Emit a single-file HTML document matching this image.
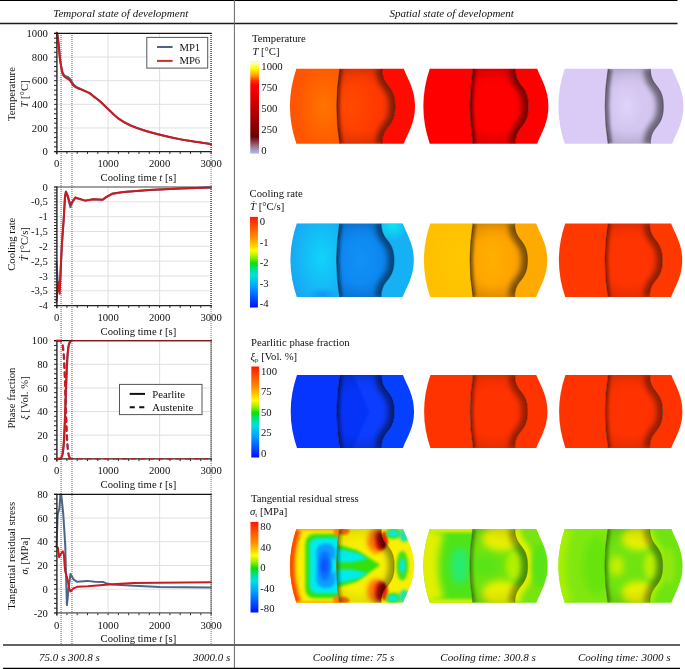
<!DOCTYPE html><html><head><meta charset="utf-8"><style>html,body{margin:0;padding:0;background:#fff;}svg{display:block;will-change:transform;}</style></head><body>
<svg width="685" height="669" viewBox="0 0 685 669" font-family='"Liberation Serif", serif' font-size="10.7" fill="#111">
<rect width="685" height="669" fill="#fff"/>
<line x1="0" x2="677.5" y1="0.5" y2="0.5" stroke="#000" stroke-width="1.2"/>
<line x1="0" x2="677.5" y1="23.5" y2="23.5" stroke="#1a1a1a" stroke-width="1.3"/>
<line x1="234.4" x2="234.4" y1="0" y2="669" stroke="#666" stroke-width="1"/>
<line x1="3" x2="680" y1="645" y2="645" stroke="#636363" stroke-width="2"/>
<line x1="3" x2="680" y1="668.5" y2="668.5" stroke="#000" stroke-width="1.5"/>
<text x="120.8" y="16.6" text-anchor="middle" font-style="italic" font-size="11">Temporal state of development</text>
<text x="451.6" y="16.6" text-anchor="middle" font-style="italic" font-size="11">Spatial state of development</text>
<text x="52.2" y="660.5" text-anchor="middle" font-style="italic" font-size="11">75.0 s</text>
<text x="83.9" y="660.5" text-anchor="middle" font-style="italic" font-size="11">300.8 s</text>
<text x="211.6" y="660.5" text-anchor="middle" font-style="italic" font-size="11">3000.0 s</text>
<text x="353.6" y="660.5" text-anchor="middle" font-style="italic" font-size="11">Cooling time: 75 s</text>
<text x="488" y="660.5" text-anchor="middle" font-style="italic" font-size="11">Cooling time: 300.8 s</text>
<text x="624.2" y="660.5" text-anchor="middle" font-style="italic" font-size="11">Cooling time: 3000 s</text>
<line x1="56.6" x2="211.1" y1="127.96" y2="127.96" stroke="#dcdcdc" stroke-width="0.9"/>
<line x1="56.6" x2="211.1" y1="104.32" y2="104.32" stroke="#dcdcdc" stroke-width="0.9"/>
<line x1="56.6" x2="211.1" y1="80.68" y2="80.68" stroke="#dcdcdc" stroke-width="0.9"/>
<line x1="56.6" x2="211.1" y1="57.04" y2="57.04" stroke="#dcdcdc" stroke-width="0.9"/>
<line x1="108.10" x2="108.10" y1="33.4" y2="151.6" stroke="#dcdcdc" stroke-width="0.9"/>
<line x1="159.60" x2="159.60" y1="33.4" y2="151.6" stroke="#dcdcdc" stroke-width="0.9"/>
<line x1="56.6" x2="211.1" y1="290.78" y2="290.78" stroke="#dcdcdc" stroke-width="0.9"/>
<line x1="56.6" x2="211.1" y1="275.95" y2="275.95" stroke="#dcdcdc" stroke-width="0.9"/>
<line x1="56.6" x2="211.1" y1="261.12" y2="261.12" stroke="#dcdcdc" stroke-width="0.9"/>
<line x1="56.6" x2="211.1" y1="246.30" y2="246.30" stroke="#dcdcdc" stroke-width="0.9"/>
<line x1="56.6" x2="211.1" y1="231.48" y2="231.48" stroke="#dcdcdc" stroke-width="0.9"/>
<line x1="56.6" x2="211.1" y1="216.65" y2="216.65" stroke="#dcdcdc" stroke-width="0.9"/>
<line x1="56.6" x2="211.1" y1="201.82" y2="201.82" stroke="#dcdcdc" stroke-width="0.9"/>
<line x1="108.10" x2="108.10" y1="187.0" y2="305.6" stroke="#dcdcdc" stroke-width="0.9"/>
<line x1="159.60" x2="159.60" y1="187.0" y2="305.6" stroke="#dcdcdc" stroke-width="0.9"/>
<line x1="56.6" x2="211.1" y1="435.18" y2="435.18" stroke="#dcdcdc" stroke-width="0.9"/>
<line x1="56.6" x2="211.1" y1="411.56" y2="411.56" stroke="#dcdcdc" stroke-width="0.9"/>
<line x1="56.6" x2="211.1" y1="387.94" y2="387.94" stroke="#dcdcdc" stroke-width="0.9"/>
<line x1="56.6" x2="211.1" y1="364.32" y2="364.32" stroke="#dcdcdc" stroke-width="0.9"/>
<line x1="108.10" x2="108.10" y1="340.7" y2="458.8" stroke="#dcdcdc" stroke-width="0.9"/>
<line x1="159.60" x2="159.60" y1="340.7" y2="458.8" stroke="#dcdcdc" stroke-width="0.9"/>
<line x1="56.6" x2="211.1" y1="589.18" y2="589.18" stroke="#dcdcdc" stroke-width="0.9"/>
<line x1="56.6" x2="211.1" y1="565.46" y2="565.46" stroke="#dcdcdc" stroke-width="0.9"/>
<line x1="56.6" x2="211.1" y1="541.74" y2="541.74" stroke="#dcdcdc" stroke-width="0.9"/>
<line x1="56.6" x2="211.1" y1="518.02" y2="518.02" stroke="#dcdcdc" stroke-width="0.9"/>
<line x1="108.10" x2="108.10" y1="494.3" y2="612.9" stroke="#dcdcdc" stroke-width="0.9"/>
<line x1="159.60" x2="159.60" y1="494.3" y2="612.9" stroke="#dcdcdc" stroke-width="0.9"/>
<line x1="61.1" x2="61.1" y1="33" y2="644" stroke="#7a7a7a" stroke-width="1.2" stroke-dasharray="1 1"/>
<line x1="71.95" x2="71.95" y1="33" y2="644" stroke="#7a7a7a" stroke-width="1.2" stroke-dasharray="1 1"/>
<path d="M56.60,33.40 C56.70,33.44 56.88,31.86 57.22,33.64 C57.55,35.41 58.18,40.24 58.61,44.04 C59.04,47.84 59.40,53.00 59.79,56.45 C60.19,59.90 60.48,62.00 60.98,64.72 C61.48,67.44 62.08,70.89 62.78,72.76 C63.48,74.63 64.30,75.18 65.20,75.95 C66.10,76.72 67.29,76.78 68.19,77.37 C69.09,77.96 69.82,78.45 70.61,79.50 C71.40,80.54 72.04,82.45 72.93,83.64 C73.81,84.82 74.72,85.74 75.91,86.59 C77.11,87.44 78.58,88.01 80.08,88.72 C81.59,89.43 83.32,90.10 84.92,90.85 C86.53,91.59 88.12,92.18 89.71,93.21 C91.31,94.23 92.71,95.57 94.50,96.99 C96.30,98.41 98.16,99.67 100.48,101.72 C102.80,103.77 105.40,106.49 108.41,109.28 C111.41,112.08 114.87,115.84 118.50,118.50 C122.13,121.16 126.01,123.29 130.19,125.24 C134.37,127.19 138.81,128.67 143.58,130.21 C148.36,131.74 153.51,133.12 158.83,134.46 C164.15,135.80 169.93,137.12 175.51,138.24 C181.09,139.37 186.37,140.25 192.30,141.20 C198.23,142.14 207.97,143.46 211.10,143.92" fill="none" stroke="#4d6585" stroke-width="2.0" stroke-linejoin="round" stroke-linecap="round"/>
<path d="M56.60,33.40 C56.70,33.44 56.88,31.80 57.22,33.64 C57.55,35.47 58.18,40.41 58.61,44.39 C59.04,48.37 59.40,53.93 59.79,57.51 C60.19,61.10 60.48,63.11 60.98,65.91 C61.48,68.70 62.08,72.41 62.78,74.30 C63.48,76.19 64.30,76.46 65.20,77.25 C66.10,78.04 67.29,78.34 68.19,79.03 C69.09,79.71 69.82,80.38 70.61,81.39 C71.40,82.39 72.04,84.05 72.93,85.05 C73.81,86.06 74.72,86.73 75.91,87.42 C77.11,88.11 78.58,88.58 80.08,89.19 C81.59,89.80 83.32,90.37 84.92,91.08 C86.53,91.79 88.12,92.44 89.71,93.45 C91.31,94.45 92.71,95.71 94.50,97.11 C96.30,98.51 98.16,99.79 100.48,101.84 C102.80,103.89 105.40,106.61 108.41,109.40 C111.41,112.20 114.87,115.96 118.50,118.62 C122.13,121.28 126.01,123.41 130.19,125.36 C134.37,127.31 138.81,128.79 143.58,130.32 C148.36,131.86 153.51,133.24 158.83,134.58 C164.15,135.92 169.93,137.24 175.51,138.36 C181.09,139.48 186.37,140.37 192.30,141.32 C198.23,142.26 207.97,143.58 211.10,144.04" fill="none" stroke="#cc1a1f" stroke-width="2.0" stroke-linejoin="round" stroke-linecap="round"/>
<path d="M56.60,261.72 L57.63,280.69 L58.66,284.85 L59.69,287.81 L61.90,244.82 L63.71,219.62 L64.99,197.38 L65.92,192.04 L67.72,197.08 L70.40,207.16 L72.62,201.82 L75.29,197.97 L85.18,200.64 L93.27,199.16 L102.69,199.75 L105.78,197.38 L112.01,193.82 L123.55,192.04 L149.30,189.97 L180.20,188.48 L211.10,187.59" fill="none" stroke="#4d6585" stroke-width="2.0" stroke-linejoin="round" stroke-linecap="round"/>
<path d="M56.60,301.15 L57.22,290.78 L57.89,281.88 L58.92,289.29 L59.69,293.74 L61.90,243.34 L63.71,219.02 L64.99,196.49 L65.92,191.45 L67.72,195.60 L70.40,204.79 L72.62,201.23 L75.29,197.38 L85.18,200.64 L93.27,199.16 L102.69,199.75 L105.78,197.38 L112.01,193.82 L123.55,192.04 L149.30,189.97 L180.20,188.48 L211.10,187.59" fill="none" stroke="#cc1a1f" stroke-width="2.0" stroke-linejoin="round" stroke-linecap="round"/>
<path d="M56.60,458.80 L59.69,458.80 L60.72,458.12 L60.87,458.01 L61.03,457.88 L61.18,457.72 L61.34,457.54 L61.49,457.32 L61.65,457.07 L61.80,456.78 L61.96,456.44 L62.11,456.05 L62.27,455.59 L62.42,455.06 L62.57,454.45 L62.73,453.73 L62.88,452.91 L63.04,451.96 L63.19,450.87 L63.35,449.62 L63.50,448.19 L63.66,446.57 L63.81,444.72 L63.96,442.64 L64.12,440.31 L64.27,437.72 L64.43,434.84 L64.58,431.68 L64.74,428.25 L64.89,424.54 L65.05,420.57 L65.20,416.38 L65.36,412.00 L65.51,407.48 L65.66,402.86 L65.82,398.20 L65.97,393.56 L66.13,388.99 L66.28,384.56 L66.44,380.30 L66.59,376.26 L66.75,372.46 L66.90,368.93 L67.05,365.68 L67.21,362.71 L67.36,360.02 L67.52,357.60 L67.67,355.44 L67.83,353.52 L67.98,351.83 L68.14,350.33 L68.29,349.03 L68.44,347.88 L68.60,346.89 L68.75,346.03 L68.91,345.28 L69.06,344.63 L69.22,344.07 L69.37,343.59 L69.53,343.18 L69.68,342.82 L69.84,342.52 L69.99,342.26 L70.76,341.41" fill="none" stroke="#4d6585" stroke-width="2.0" stroke-linejoin="round" stroke-linecap="round"/>
<path d="M56.60,340.70 L59.69,340.70 L60.72,341.24 L60.87,341.33 L61.03,341.45 L61.18,341.58 L61.34,341.74 L61.49,341.93 L61.65,342.15 L61.80,342.41 L61.96,342.71 L62.11,343.07 L62.27,343.49 L62.42,343.98 L62.57,344.56 L62.73,345.23 L62.88,346.01 L63.04,346.92 L63.19,347.98 L63.35,349.21 L63.50,350.62 L63.66,352.25 L63.81,354.10 L63.96,356.21 L64.12,358.60 L64.27,361.28 L64.43,364.27 L64.58,367.57 L64.74,371.19 L64.89,375.11 L65.05,379.31 L65.20,383.76 L65.36,388.41 L65.51,393.22 L65.66,398.11 L65.82,403.03 L65.97,407.90 L66.13,412.66 L66.28,417.25 L66.44,421.62 L66.59,425.73 L66.75,429.55 L66.90,433.06 L67.05,436.26 L67.21,439.14 L67.36,441.73 L67.52,444.02 L67.67,446.04 L67.83,447.82 L67.98,449.37 L68.14,450.72 L68.29,451.89 L68.44,452.90 L68.60,453.76 L68.75,454.51 L68.91,455.15 L69.06,455.69 L69.22,456.16 L69.37,456.56 L69.53,456.90 L69.68,457.18 L69.84,457.43 L69.99,457.64 L70.76,458.29" fill="none" stroke="#4d6585" stroke-width="2.0" stroke-linejoin="round" stroke-linecap="round" stroke-dasharray="4.5 4.5"/>
<path d="M56.60,458.80 L59.69,458.80 L60.72,457.92 L60.87,457.77 L61.03,457.60 L61.18,457.40 L61.34,457.16 L61.49,456.88 L61.65,456.56 L61.80,456.19 L61.96,455.75 L62.11,455.25 L62.27,454.66 L62.42,453.98 L62.57,453.20 L62.73,452.29 L62.88,451.25 L63.04,450.06 L63.19,448.69 L63.35,447.13 L63.50,445.36 L63.66,443.36 L63.81,441.12 L63.96,438.61 L64.12,435.83 L64.27,432.77 L64.43,429.42 L64.58,425.80 L64.74,421.92 L64.89,417.80 L65.05,413.48 L65.20,409.00 L65.36,404.40 L65.51,399.75 L65.66,395.10 L65.82,390.50 L65.97,386.02 L66.13,381.70 L66.28,377.58 L66.44,373.70 L66.59,370.08 L66.75,366.73 L66.90,363.67 L67.05,360.89 L67.21,358.38 L67.36,356.14 L67.52,354.14 L67.67,352.37 L67.83,350.81 L67.98,349.44 L68.14,348.25 L68.29,347.21 L68.44,346.30 L68.60,345.52 L68.75,344.84 L68.91,344.25 L69.06,343.75 L69.22,343.31 L69.37,342.94 L69.53,342.62 L69.68,342.34 L69.84,342.10 L69.99,341.90 L70.76,341.25" fill="none" stroke="#cc1a1f" stroke-width="2.0" stroke-linejoin="round" stroke-linecap="round"/>
<path d="M56.60,340.70 L59.69,340.70 L60.72,341.41 L60.87,341.54 L61.03,341.69 L61.18,341.86 L61.34,342.07 L61.49,342.32 L61.65,342.60 L61.80,342.94 L61.96,343.34 L62.11,343.81 L62.27,344.35 L62.42,344.99 L62.57,345.74 L62.73,346.60 L62.88,347.61 L63.04,348.78 L63.19,350.13 L63.35,351.68 L63.50,353.46 L63.66,355.48 L63.81,357.77 L63.96,360.36 L64.12,363.24 L64.27,366.44 L64.43,369.95 L64.58,373.77 L64.74,377.88 L64.89,382.25 L65.05,386.84 L65.20,391.60 L65.36,396.47 L65.51,401.39 L65.66,406.28 L65.82,411.09 L65.97,415.74 L66.13,420.19 L66.28,424.39 L66.44,428.31 L66.59,431.93 L66.75,435.23 L66.90,438.22 L67.05,440.90 L67.21,443.29 L67.36,445.40 L67.52,447.25 L67.67,448.88 L67.83,450.29 L67.98,451.52 L68.14,452.58 L68.29,453.49 L68.44,454.27 L68.60,454.94 L68.75,455.52 L68.91,456.01 L69.06,456.43 L69.22,456.79 L69.37,457.09 L69.53,457.35 L69.68,457.57 L69.84,457.76 L69.99,457.92 L70.76,458.41" fill="none" stroke="#cc1a1f" stroke-width="2.0" stroke-linejoin="round" stroke-linecap="round" stroke-dasharray="4.5 4.5"/>
<path d="M56.60,547.08 L57.12,529.88 L57.63,514.46 L59.43,508.53 L60.46,494.30 L61.34,495.49 L63.19,513.28 L64.58,534.62 L65.46,550.04 L65.10,541.74 L66.90,605.07 L68.70,587.76 L70.50,574.00 L73.49,579.34 L77.10,581.83 L86.98,580.88 L94.97,581.83 L103.41,582.06 L107.02,583.61 L112.01,584.44 L133.85,585.86 L159.60,587.05 L211.10,587.52" fill="none" stroke="#4d6585" stroke-width="2.0" stroke-linejoin="round" stroke-linecap="round"/>
<path d="M56.60,547.08 L57.89,547.67 L59.18,557.16 L60.46,554.31 L62.78,551.23 L63.81,554.19 L65.10,571.03 L67.52,579.34 L69.32,588.94 L70.50,591.43 L73.49,588.35 L77.10,586.81 L87.81,586.33 L99.81,585.15 L112.01,584.20 L133.85,583.01 L159.60,582.66 L211.10,582.30" fill="none" stroke="#cc1a1f" stroke-width="2.0" stroke-linejoin="round" stroke-linecap="round"/>
<line x1="211.1" x2="211.1" y1="33" y2="644" stroke="#8a8a8a" stroke-width="1.2" stroke-dasharray="1 1"/>
<line x1="211.1" x2="211.1" y1="33" y2="152" stroke="#444" stroke-width="1.2" stroke-dasharray="1 1"/>
<line x1="211.1" x2="211.1" y1="187" y2="306" stroke="#444" stroke-width="1.2" stroke-dasharray="1 1"/>
<line x1="211.1" x2="211.1" y1="340" y2="459" stroke="#444" stroke-width="1.2" stroke-dasharray="1 1"/>
<line x1="211.1" x2="211.1" y1="494" y2="613" stroke="#444" stroke-width="1.2" stroke-dasharray="1 1"/>
<line x1="54.0" x2="57.0" y1="151.60" y2="151.60" stroke="#111" stroke-width="0.9"/>
<line x1="54.0" x2="57.0" y1="146.87" y2="146.87" stroke="#111" stroke-width="0.9"/>
<line x1="54.0" x2="57.0" y1="142.14" y2="142.14" stroke="#111" stroke-width="0.9"/>
<line x1="54.0" x2="57.0" y1="137.42" y2="137.42" stroke="#111" stroke-width="0.9"/>
<line x1="54.0" x2="57.0" y1="132.69" y2="132.69" stroke="#111" stroke-width="0.9"/>
<line x1="54.0" x2="57.0" y1="127.96" y2="127.96" stroke="#111" stroke-width="0.9"/>
<line x1="54.0" x2="57.0" y1="123.23" y2="123.23" stroke="#111" stroke-width="0.9"/>
<line x1="54.0" x2="57.0" y1="118.50" y2="118.50" stroke="#111" stroke-width="0.9"/>
<line x1="54.0" x2="57.0" y1="113.78" y2="113.78" stroke="#111" stroke-width="0.9"/>
<line x1="54.0" x2="57.0" y1="109.05" y2="109.05" stroke="#111" stroke-width="0.9"/>
<line x1="54.0" x2="57.0" y1="104.32" y2="104.32" stroke="#111" stroke-width="0.9"/>
<line x1="54.0" x2="57.0" y1="99.59" y2="99.59" stroke="#111" stroke-width="0.9"/>
<line x1="54.0" x2="57.0" y1="94.86" y2="94.86" stroke="#111" stroke-width="0.9"/>
<line x1="54.0" x2="57.0" y1="90.14" y2="90.14" stroke="#111" stroke-width="0.9"/>
<line x1="54.0" x2="57.0" y1="85.41" y2="85.41" stroke="#111" stroke-width="0.9"/>
<line x1="54.0" x2="57.0" y1="80.68" y2="80.68" stroke="#111" stroke-width="0.9"/>
<line x1="54.0" x2="57.0" y1="75.95" y2="75.95" stroke="#111" stroke-width="0.9"/>
<line x1="54.0" x2="57.0" y1="71.22" y2="71.22" stroke="#111" stroke-width="0.9"/>
<line x1="54.0" x2="57.0" y1="66.50" y2="66.50" stroke="#111" stroke-width="0.9"/>
<line x1="54.0" x2="57.0" y1="61.77" y2="61.77" stroke="#111" stroke-width="0.9"/>
<line x1="54.0" x2="57.0" y1="57.04" y2="57.04" stroke="#111" stroke-width="0.9"/>
<line x1="54.0" x2="57.0" y1="52.31" y2="52.31" stroke="#111" stroke-width="0.9"/>
<line x1="54.0" x2="57.0" y1="47.58" y2="47.58" stroke="#111" stroke-width="0.9"/>
<line x1="54.0" x2="57.0" y1="42.86" y2="42.86" stroke="#111" stroke-width="0.9"/>
<line x1="54.0" x2="57.0" y1="38.13" y2="38.13" stroke="#111" stroke-width="0.9"/>
<line x1="54.0" x2="57.0" y1="33.40" y2="33.40" stroke="#111" stroke-width="0.9"/>
<line x1="56.60" x2="56.60" y1="151.6" y2="153.90" stroke="#111" stroke-width="0.9"/>
<line x1="66.90" x2="66.90" y1="151.6" y2="153.90" stroke="#111" stroke-width="0.9"/>
<line x1="77.20" x2="77.20" y1="151.6" y2="153.90" stroke="#111" stroke-width="0.9"/>
<line x1="87.50" x2="87.50" y1="151.6" y2="153.90" stroke="#111" stroke-width="0.9"/>
<line x1="97.80" x2="97.80" y1="151.6" y2="153.90" stroke="#111" stroke-width="0.9"/>
<line x1="108.10" x2="108.10" y1="151.6" y2="153.90" stroke="#111" stroke-width="0.9"/>
<line x1="118.40" x2="118.40" y1="151.6" y2="153.90" stroke="#111" stroke-width="0.9"/>
<line x1="128.70" x2="128.70" y1="151.6" y2="153.90" stroke="#111" stroke-width="0.9"/>
<line x1="139.00" x2="139.00" y1="151.6" y2="153.90" stroke="#111" stroke-width="0.9"/>
<line x1="149.30" x2="149.30" y1="151.6" y2="153.90" stroke="#111" stroke-width="0.9"/>
<line x1="159.60" x2="159.60" y1="151.6" y2="153.90" stroke="#111" stroke-width="0.9"/>
<line x1="169.90" x2="169.90" y1="151.6" y2="153.90" stroke="#111" stroke-width="0.9"/>
<line x1="180.20" x2="180.20" y1="151.6" y2="153.90" stroke="#111" stroke-width="0.9"/>
<line x1="190.50" x2="190.50" y1="151.6" y2="153.90" stroke="#111" stroke-width="0.9"/>
<line x1="200.80" x2="200.80" y1="151.6" y2="153.90" stroke="#111" stroke-width="0.9"/>
<line x1="211.10" x2="211.10" y1="151.6" y2="153.90" stroke="#111" stroke-width="0.9"/>
<line x1="54.0" x2="211.6" y1="33.4" y2="33.4" stroke="#111" stroke-width="1.2"/>
<line x1="54.0" x2="211.6" y1="151.6" y2="151.6" stroke="#222" stroke-width="1.3"/>
<line x1="56.9" x2="56.9" y1="32.8" y2="154.2" stroke="#222" stroke-width="1.4"/>
<text x="47.9" y="155.20" text-anchor="end">0</text>
<text x="47.9" y="131.56" text-anchor="end">200</text>
<text x="47.9" y="107.92" text-anchor="end">400</text>
<text x="47.9" y="84.28" text-anchor="end">600</text>
<text x="47.9" y="60.64" text-anchor="end">800</text>
<text x="47.9" y="37.00" text-anchor="end">1000</text>
<text x="56.60" y="167.20" text-anchor="middle">0</text>
<text x="108.10" y="167.20" text-anchor="middle">1000</text>
<text x="159.60" y="167.20" text-anchor="middle">2000</text>
<text x="211.10" y="167.20" text-anchor="middle">3000</text>
<text x="138.4" y="180.70" text-anchor="middle">Cooling time <tspan font-style="italic">t</tspan> [s]</text>
<line x1="54.0" x2="57.0" y1="305.60" y2="305.60" stroke="#111" stroke-width="0.9"/>
<line x1="54.0" x2="57.0" y1="302.63" y2="302.63" stroke="#111" stroke-width="0.9"/>
<line x1="54.0" x2="57.0" y1="299.67" y2="299.67" stroke="#111" stroke-width="0.9"/>
<line x1="54.0" x2="57.0" y1="296.71" y2="296.71" stroke="#111" stroke-width="0.9"/>
<line x1="54.0" x2="57.0" y1="293.74" y2="293.74" stroke="#111" stroke-width="0.9"/>
<line x1="54.0" x2="57.0" y1="290.78" y2="290.78" stroke="#111" stroke-width="0.9"/>
<line x1="54.0" x2="57.0" y1="287.81" y2="287.81" stroke="#111" stroke-width="0.9"/>
<line x1="54.0" x2="57.0" y1="284.85" y2="284.85" stroke="#111" stroke-width="0.9"/>
<line x1="54.0" x2="57.0" y1="281.88" y2="281.88" stroke="#111" stroke-width="0.9"/>
<line x1="54.0" x2="57.0" y1="278.92" y2="278.92" stroke="#111" stroke-width="0.9"/>
<line x1="54.0" x2="57.0" y1="275.95" y2="275.95" stroke="#111" stroke-width="0.9"/>
<line x1="54.0" x2="57.0" y1="272.99" y2="272.99" stroke="#111" stroke-width="0.9"/>
<line x1="54.0" x2="57.0" y1="270.02" y2="270.02" stroke="#111" stroke-width="0.9"/>
<line x1="54.0" x2="57.0" y1="267.06" y2="267.06" stroke="#111" stroke-width="0.9"/>
<line x1="54.0" x2="57.0" y1="264.09" y2="264.09" stroke="#111" stroke-width="0.9"/>
<line x1="54.0" x2="57.0" y1="261.12" y2="261.12" stroke="#111" stroke-width="0.9"/>
<line x1="54.0" x2="57.0" y1="258.16" y2="258.16" stroke="#111" stroke-width="0.9"/>
<line x1="54.0" x2="57.0" y1="255.19" y2="255.19" stroke="#111" stroke-width="0.9"/>
<line x1="54.0" x2="57.0" y1="252.23" y2="252.23" stroke="#111" stroke-width="0.9"/>
<line x1="54.0" x2="57.0" y1="249.26" y2="249.26" stroke="#111" stroke-width="0.9"/>
<line x1="54.0" x2="57.0" y1="246.30" y2="246.30" stroke="#111" stroke-width="0.9"/>
<line x1="54.0" x2="57.0" y1="243.34" y2="243.34" stroke="#111" stroke-width="0.9"/>
<line x1="54.0" x2="57.0" y1="240.37" y2="240.37" stroke="#111" stroke-width="0.9"/>
<line x1="54.0" x2="57.0" y1="237.41" y2="237.41" stroke="#111" stroke-width="0.9"/>
<line x1="54.0" x2="57.0" y1="234.44" y2="234.44" stroke="#111" stroke-width="0.9"/>
<line x1="54.0" x2="57.0" y1="231.48" y2="231.48" stroke="#111" stroke-width="0.9"/>
<line x1="54.0" x2="57.0" y1="228.51" y2="228.51" stroke="#111" stroke-width="0.9"/>
<line x1="54.0" x2="57.0" y1="225.55" y2="225.55" stroke="#111" stroke-width="0.9"/>
<line x1="54.0" x2="57.0" y1="222.58" y2="222.58" stroke="#111" stroke-width="0.9"/>
<line x1="54.0" x2="57.0" y1="219.62" y2="219.62" stroke="#111" stroke-width="0.9"/>
<line x1="54.0" x2="57.0" y1="216.65" y2="216.65" stroke="#111" stroke-width="0.9"/>
<line x1="54.0" x2="57.0" y1="213.69" y2="213.69" stroke="#111" stroke-width="0.9"/>
<line x1="54.0" x2="57.0" y1="210.72" y2="210.72" stroke="#111" stroke-width="0.9"/>
<line x1="54.0" x2="57.0" y1="207.75" y2="207.75" stroke="#111" stroke-width="0.9"/>
<line x1="54.0" x2="57.0" y1="204.79" y2="204.79" stroke="#111" stroke-width="0.9"/>
<line x1="54.0" x2="57.0" y1="201.82" y2="201.82" stroke="#111" stroke-width="0.9"/>
<line x1="54.0" x2="57.0" y1="198.86" y2="198.86" stroke="#111" stroke-width="0.9"/>
<line x1="54.0" x2="57.0" y1="195.89" y2="195.89" stroke="#111" stroke-width="0.9"/>
<line x1="54.0" x2="57.0" y1="192.93" y2="192.93" stroke="#111" stroke-width="0.9"/>
<line x1="54.0" x2="57.0" y1="189.96" y2="189.96" stroke="#111" stroke-width="0.9"/>
<line x1="54.0" x2="57.0" y1="187.00" y2="187.00" stroke="#111" stroke-width="0.9"/>
<line x1="56.60" x2="56.60" y1="305.6" y2="307.90" stroke="#111" stroke-width="0.9"/>
<line x1="66.90" x2="66.90" y1="305.6" y2="307.90" stroke="#111" stroke-width="0.9"/>
<line x1="77.20" x2="77.20" y1="305.6" y2="307.90" stroke="#111" stroke-width="0.9"/>
<line x1="87.50" x2="87.50" y1="305.6" y2="307.90" stroke="#111" stroke-width="0.9"/>
<line x1="97.80" x2="97.80" y1="305.6" y2="307.90" stroke="#111" stroke-width="0.9"/>
<line x1="108.10" x2="108.10" y1="305.6" y2="307.90" stroke="#111" stroke-width="0.9"/>
<line x1="118.40" x2="118.40" y1="305.6" y2="307.90" stroke="#111" stroke-width="0.9"/>
<line x1="128.70" x2="128.70" y1="305.6" y2="307.90" stroke="#111" stroke-width="0.9"/>
<line x1="139.00" x2="139.00" y1="305.6" y2="307.90" stroke="#111" stroke-width="0.9"/>
<line x1="149.30" x2="149.30" y1="305.6" y2="307.90" stroke="#111" stroke-width="0.9"/>
<line x1="159.60" x2="159.60" y1="305.6" y2="307.90" stroke="#111" stroke-width="0.9"/>
<line x1="169.90" x2="169.90" y1="305.6" y2="307.90" stroke="#111" stroke-width="0.9"/>
<line x1="180.20" x2="180.20" y1="305.6" y2="307.90" stroke="#111" stroke-width="0.9"/>
<line x1="190.50" x2="190.50" y1="305.6" y2="307.90" stroke="#111" stroke-width="0.9"/>
<line x1="200.80" x2="200.80" y1="305.6" y2="307.90" stroke="#111" stroke-width="0.9"/>
<line x1="211.10" x2="211.10" y1="305.6" y2="307.90" stroke="#111" stroke-width="0.9"/>
<line x1="54.0" x2="211.6" y1="187.0" y2="187.0" stroke="#444" stroke-width="1.2"/>
<line x1="54.0" x2="211.6" y1="305.6" y2="305.6" stroke="#222" stroke-width="1.3"/>
<line x1="56.9" x2="56.9" y1="186.4" y2="308.20000000000005" stroke="#222" stroke-width="1.4"/>
<text x="47.9" y="309.20" text-anchor="end">-4</text>
<text x="47.9" y="294.38" text-anchor="end">-3,5</text>
<text x="47.9" y="279.55" text-anchor="end">-3</text>
<text x="47.9" y="264.73" text-anchor="end">-2,5</text>
<text x="47.9" y="249.90" text-anchor="end">-2</text>
<text x="47.9" y="235.08" text-anchor="end">-1,5</text>
<text x="47.9" y="220.25" text-anchor="end">-1</text>
<text x="47.9" y="205.42" text-anchor="end">-0,5</text>
<text x="47.9" y="190.60" text-anchor="end">0</text>
<text x="56.60" y="321.20" text-anchor="middle">0</text>
<text x="108.10" y="321.20" text-anchor="middle">1000</text>
<text x="159.60" y="321.20" text-anchor="middle">2000</text>
<text x="211.10" y="321.20" text-anchor="middle">3000</text>
<text x="138.4" y="334.70" text-anchor="middle">Cooling time <tspan font-style="italic">t</tspan> [s]</text>
<line x1="54.0" x2="57.0" y1="458.80" y2="458.80" stroke="#111" stroke-width="0.9"/>
<line x1="54.0" x2="57.0" y1="454.08" y2="454.08" stroke="#111" stroke-width="0.9"/>
<line x1="54.0" x2="57.0" y1="449.35" y2="449.35" stroke="#111" stroke-width="0.9"/>
<line x1="54.0" x2="57.0" y1="444.63" y2="444.63" stroke="#111" stroke-width="0.9"/>
<line x1="54.0" x2="57.0" y1="439.90" y2="439.90" stroke="#111" stroke-width="0.9"/>
<line x1="54.0" x2="57.0" y1="435.18" y2="435.18" stroke="#111" stroke-width="0.9"/>
<line x1="54.0" x2="57.0" y1="430.46" y2="430.46" stroke="#111" stroke-width="0.9"/>
<line x1="54.0" x2="57.0" y1="425.73" y2="425.73" stroke="#111" stroke-width="0.9"/>
<line x1="54.0" x2="57.0" y1="421.01" y2="421.01" stroke="#111" stroke-width="0.9"/>
<line x1="54.0" x2="57.0" y1="416.28" y2="416.28" stroke="#111" stroke-width="0.9"/>
<line x1="54.0" x2="57.0" y1="411.56" y2="411.56" stroke="#111" stroke-width="0.9"/>
<line x1="54.0" x2="57.0" y1="406.84" y2="406.84" stroke="#111" stroke-width="0.9"/>
<line x1="54.0" x2="57.0" y1="402.11" y2="402.11" stroke="#111" stroke-width="0.9"/>
<line x1="54.0" x2="57.0" y1="397.39" y2="397.39" stroke="#111" stroke-width="0.9"/>
<line x1="54.0" x2="57.0" y1="392.66" y2="392.66" stroke="#111" stroke-width="0.9"/>
<line x1="54.0" x2="57.0" y1="387.94" y2="387.94" stroke="#111" stroke-width="0.9"/>
<line x1="54.0" x2="57.0" y1="383.22" y2="383.22" stroke="#111" stroke-width="0.9"/>
<line x1="54.0" x2="57.0" y1="378.49" y2="378.49" stroke="#111" stroke-width="0.9"/>
<line x1="54.0" x2="57.0" y1="373.77" y2="373.77" stroke="#111" stroke-width="0.9"/>
<line x1="54.0" x2="57.0" y1="369.04" y2="369.04" stroke="#111" stroke-width="0.9"/>
<line x1="54.0" x2="57.0" y1="364.32" y2="364.32" stroke="#111" stroke-width="0.9"/>
<line x1="54.0" x2="57.0" y1="359.60" y2="359.60" stroke="#111" stroke-width="0.9"/>
<line x1="54.0" x2="57.0" y1="354.87" y2="354.87" stroke="#111" stroke-width="0.9"/>
<line x1="54.0" x2="57.0" y1="350.15" y2="350.15" stroke="#111" stroke-width="0.9"/>
<line x1="54.0" x2="57.0" y1="345.42" y2="345.42" stroke="#111" stroke-width="0.9"/>
<line x1="54.0" x2="57.0" y1="340.70" y2="340.70" stroke="#111" stroke-width="0.9"/>
<line x1="56.60" x2="56.60" y1="458.8" y2="461.10" stroke="#111" stroke-width="0.9"/>
<line x1="66.90" x2="66.90" y1="458.8" y2="461.10" stroke="#111" stroke-width="0.9"/>
<line x1="77.20" x2="77.20" y1="458.8" y2="461.10" stroke="#111" stroke-width="0.9"/>
<line x1="87.50" x2="87.50" y1="458.8" y2="461.10" stroke="#111" stroke-width="0.9"/>
<line x1="97.80" x2="97.80" y1="458.8" y2="461.10" stroke="#111" stroke-width="0.9"/>
<line x1="108.10" x2="108.10" y1="458.8" y2="461.10" stroke="#111" stroke-width="0.9"/>
<line x1="118.40" x2="118.40" y1="458.8" y2="461.10" stroke="#111" stroke-width="0.9"/>
<line x1="128.70" x2="128.70" y1="458.8" y2="461.10" stroke="#111" stroke-width="0.9"/>
<line x1="139.00" x2="139.00" y1="458.8" y2="461.10" stroke="#111" stroke-width="0.9"/>
<line x1="149.30" x2="149.30" y1="458.8" y2="461.10" stroke="#111" stroke-width="0.9"/>
<line x1="159.60" x2="159.60" y1="458.8" y2="461.10" stroke="#111" stroke-width="0.9"/>
<line x1="169.90" x2="169.90" y1="458.8" y2="461.10" stroke="#111" stroke-width="0.9"/>
<line x1="180.20" x2="180.20" y1="458.8" y2="461.10" stroke="#111" stroke-width="0.9"/>
<line x1="190.50" x2="190.50" y1="458.8" y2="461.10" stroke="#111" stroke-width="0.9"/>
<line x1="200.80" x2="200.80" y1="458.8" y2="461.10" stroke="#111" stroke-width="0.9"/>
<line x1="211.10" x2="211.10" y1="458.8" y2="461.10" stroke="#111" stroke-width="0.9"/>
<line x1="54.0" x2="211.6" y1="340.7" y2="340.7" stroke="#111" stroke-width="1.2"/>
<line x1="54.0" x2="211.6" y1="458.8" y2="458.8" stroke="#222" stroke-width="1.3"/>
<line x1="56.9" x2="56.9" y1="340.09999999999997" y2="461.40000000000003" stroke="#222" stroke-width="1.4"/>
<text x="47.9" y="462.40" text-anchor="end">0</text>
<text x="47.9" y="438.78" text-anchor="end">20</text>
<text x="47.9" y="415.16" text-anchor="end">40</text>
<text x="47.9" y="391.54" text-anchor="end">60</text>
<text x="47.9" y="367.92" text-anchor="end">80</text>
<text x="47.9" y="344.30" text-anchor="end">100</text>
<text x="56.60" y="474.40" text-anchor="middle">0</text>
<text x="108.10" y="474.40" text-anchor="middle">1000</text>
<text x="159.60" y="474.40" text-anchor="middle">2000</text>
<text x="211.10" y="474.40" text-anchor="middle">3000</text>
<text x="138.4" y="487.90" text-anchor="middle">Cooling time <tspan font-style="italic">t</tspan> [s]</text>
<line x1="54.0" x2="57.0" y1="612.90" y2="612.90" stroke="#111" stroke-width="0.9"/>
<line x1="54.0" x2="57.0" y1="608.16" y2="608.16" stroke="#111" stroke-width="0.9"/>
<line x1="54.0" x2="57.0" y1="603.41" y2="603.41" stroke="#111" stroke-width="0.9"/>
<line x1="54.0" x2="57.0" y1="598.67" y2="598.67" stroke="#111" stroke-width="0.9"/>
<line x1="54.0" x2="57.0" y1="593.92" y2="593.92" stroke="#111" stroke-width="0.9"/>
<line x1="54.0" x2="57.0" y1="589.18" y2="589.18" stroke="#111" stroke-width="0.9"/>
<line x1="54.0" x2="57.0" y1="584.44" y2="584.44" stroke="#111" stroke-width="0.9"/>
<line x1="54.0" x2="57.0" y1="579.69" y2="579.69" stroke="#111" stroke-width="0.9"/>
<line x1="54.0" x2="57.0" y1="574.95" y2="574.95" stroke="#111" stroke-width="0.9"/>
<line x1="54.0" x2="57.0" y1="570.20" y2="570.20" stroke="#111" stroke-width="0.9"/>
<line x1="54.0" x2="57.0" y1="565.46" y2="565.46" stroke="#111" stroke-width="0.9"/>
<line x1="54.0" x2="57.0" y1="560.72" y2="560.72" stroke="#111" stroke-width="0.9"/>
<line x1="54.0" x2="57.0" y1="555.97" y2="555.97" stroke="#111" stroke-width="0.9"/>
<line x1="54.0" x2="57.0" y1="551.23" y2="551.23" stroke="#111" stroke-width="0.9"/>
<line x1="54.0" x2="57.0" y1="546.48" y2="546.48" stroke="#111" stroke-width="0.9"/>
<line x1="54.0" x2="57.0" y1="541.74" y2="541.74" stroke="#111" stroke-width="0.9"/>
<line x1="54.0" x2="57.0" y1="537.00" y2="537.00" stroke="#111" stroke-width="0.9"/>
<line x1="54.0" x2="57.0" y1="532.25" y2="532.25" stroke="#111" stroke-width="0.9"/>
<line x1="54.0" x2="57.0" y1="527.51" y2="527.51" stroke="#111" stroke-width="0.9"/>
<line x1="54.0" x2="57.0" y1="522.76" y2="522.76" stroke="#111" stroke-width="0.9"/>
<line x1="54.0" x2="57.0" y1="518.02" y2="518.02" stroke="#111" stroke-width="0.9"/>
<line x1="54.0" x2="57.0" y1="513.28" y2="513.28" stroke="#111" stroke-width="0.9"/>
<line x1="54.0" x2="57.0" y1="508.53" y2="508.53" stroke="#111" stroke-width="0.9"/>
<line x1="54.0" x2="57.0" y1="503.79" y2="503.79" stroke="#111" stroke-width="0.9"/>
<line x1="54.0" x2="57.0" y1="499.04" y2="499.04" stroke="#111" stroke-width="0.9"/>
<line x1="54.0" x2="57.0" y1="494.30" y2="494.30" stroke="#111" stroke-width="0.9"/>
<line x1="56.60" x2="56.60" y1="612.9" y2="615.20" stroke="#111" stroke-width="0.9"/>
<line x1="66.90" x2="66.90" y1="612.9" y2="615.20" stroke="#111" stroke-width="0.9"/>
<line x1="77.20" x2="77.20" y1="612.9" y2="615.20" stroke="#111" stroke-width="0.9"/>
<line x1="87.50" x2="87.50" y1="612.9" y2="615.20" stroke="#111" stroke-width="0.9"/>
<line x1="97.80" x2="97.80" y1="612.9" y2="615.20" stroke="#111" stroke-width="0.9"/>
<line x1="108.10" x2="108.10" y1="612.9" y2="615.20" stroke="#111" stroke-width="0.9"/>
<line x1="118.40" x2="118.40" y1="612.9" y2="615.20" stroke="#111" stroke-width="0.9"/>
<line x1="128.70" x2="128.70" y1="612.9" y2="615.20" stroke="#111" stroke-width="0.9"/>
<line x1="139.00" x2="139.00" y1="612.9" y2="615.20" stroke="#111" stroke-width="0.9"/>
<line x1="149.30" x2="149.30" y1="612.9" y2="615.20" stroke="#111" stroke-width="0.9"/>
<line x1="159.60" x2="159.60" y1="612.9" y2="615.20" stroke="#111" stroke-width="0.9"/>
<line x1="169.90" x2="169.90" y1="612.9" y2="615.20" stroke="#111" stroke-width="0.9"/>
<line x1="180.20" x2="180.20" y1="612.9" y2="615.20" stroke="#111" stroke-width="0.9"/>
<line x1="190.50" x2="190.50" y1="612.9" y2="615.20" stroke="#111" stroke-width="0.9"/>
<line x1="200.80" x2="200.80" y1="612.9" y2="615.20" stroke="#111" stroke-width="0.9"/>
<line x1="211.10" x2="211.10" y1="612.9" y2="615.20" stroke="#111" stroke-width="0.9"/>
<line x1="54.0" x2="211.6" y1="494.3" y2="494.3" stroke="#111" stroke-width="1.2"/>
<line x1="54.0" x2="211.6" y1="612.9" y2="612.9" stroke="#555" stroke-width="1.3"/>
<line x1="56.9" x2="56.9" y1="493.7" y2="615.5" stroke="#222" stroke-width="1.4"/>
<text x="47.9" y="616.50" text-anchor="end">-20</text>
<text x="47.9" y="592.78" text-anchor="end">0</text>
<text x="47.9" y="569.06" text-anchor="end">20</text>
<text x="47.9" y="545.34" text-anchor="end">40</text>
<text x="47.9" y="521.62" text-anchor="end">60</text>
<text x="47.9" y="497.90" text-anchor="end">80</text>
<text x="56.60" y="628.50" text-anchor="middle">0</text>
<text x="108.10" y="628.50" text-anchor="middle">1000</text>
<text x="159.60" y="628.50" text-anchor="middle">2000</text>
<text x="211.10" y="628.50" text-anchor="middle">3000</text>
<text x="138.4" y="642.00" text-anchor="middle">Cooling time <tspan font-style="italic">t</tspan> [s]</text>
<path d="M68.96,340.70 L211.10,340.70" fill="none" stroke="#a81c20" stroke-width="1.1" stroke-linejoin="round" stroke-linecap="round"/>
<path d="M56.60,340.70 L61.23,340.70" fill="none" stroke="#cc1a1f" stroke-width="1.6" stroke-linejoin="round" stroke-linecap="round" stroke-dasharray="4.5 4.5"/>
<path d="M56.60,458.80 L60.98,458.80" fill="none" stroke="#cc1a1f" stroke-width="1.6" stroke-linejoin="round" stroke-linecap="round"/>
<path d="M68.39,458.80 L211.10,458.80" fill="none" stroke="#b81c20" stroke-width="1.3" stroke-linejoin="round" stroke-linecap="round" stroke-dasharray="4.5 4.5"/>
<text transform="translate(14.7,94.0) rotate(-90)" text-anchor="middle">Temperature</text>
<text transform="translate(27.8,94.0) rotate(-90)" text-anchor="middle"><tspan font-style="italic">T</tspan> [°C]</text>
<text transform="translate(14.7,244.2) rotate(-90)" text-anchor="middle">Cooling rate</text>
<text transform="translate(27.8,244.2) rotate(-90)" text-anchor="middle"><tspan font-style="italic">Ṫ</tspan> [°C/s]</text>
<text transform="translate(14.7,398.0) rotate(-90)" text-anchor="middle">Phase fraction</text>
<text transform="translate(27.8,398.0) rotate(-90)" text-anchor="middle"><tspan font-style="italic">ξ</tspan> [Vol. %]</text>
<text transform="translate(14.7,555.8) rotate(-90)" text-anchor="middle">Tangential residual stress</text>
<text transform="translate(27.8,555.8) rotate(-90)" text-anchor="middle"><tspan font-style="italic">σ</tspan><tspan font-size="7" dy="1.5">t</tspan><tspan dy="-1.5"> [MPa]</tspan></text>
<rect x="146.8" y="37.4" width="60.9" height="30.7" fill="#fff" stroke="#555" stroke-width="1"/>
<line x1="157" x2="172.6" y1="47" y2="47" stroke="#4d6585" stroke-width="2"/>
<line x1="157" x2="172.6" y1="60.9" y2="60.9" stroke="#d42a2a" stroke-width="2"/>
<text x="179.4" y="51.2">MP1</text><text x="179.4" y="64.2">MP6</text>
<rect x="119.5" y="384.4" width="82.5" height="30.2" fill="#fff" stroke="#555" stroke-width="1"/>
<line x1="129.7" x2="145" y1="393.9" y2="393.9" stroke="#111" stroke-width="2"/>
<line x1="129.7" x2="145" y1="407.3" y2="407.3" stroke="#111" stroke-width="2" stroke-dasharray="5.1 4.4"/>
<text x="152.3" y="398.2">Pearlite</text><text x="152.3" y="410.7">Austenite</text>
<defs><filter id="blur2" filterUnits="userSpaceOnUse" x="-40" y="-40" width="200" height="160"><feGaussianBlur stdDeviation="1.6"/></filter><filter id="blur3" filterUnits="userSpaceOnUse" x="-40" y="-40" width="200" height="160"><feGaussianBlur stdDeviation="2.6"/></filter><filter id="blur4" filterUnits="userSpaceOnUse" x="-40" y="-40" width="200" height="160"><feGaussianBlur stdDeviation="3.5"/></filter><filter id="blur1" filterUnits="userSpaceOnUse" x="-40" y="-40" width="200" height="160"><feGaussianBlur stdDeviation="1.0"/></filter><radialGradient id="bshade" cx="0.42" cy="0.5" r="0.75" fx="0.42" fy="0.5"><stop offset="0.45" stop-color="#000" stop-opacity="0"/><stop offset="1" stop-color="#000" stop-opacity="0.3"/></radialGradient><linearGradient id="bvert" x1="0" y1="0" x2="0" y2="1"><stop offset="0" stop-color="#000" stop-opacity="0.18"/><stop offset="0.1" stop-color="#000" stop-opacity="0.05"/><stop offset="0.25" stop-color="#000" stop-opacity="0"/><stop offset="0.8" stop-color="#000" stop-opacity="0"/><stop offset="1" stop-color="#000" stop-opacity="0.12"/></linearGradient><filter id="blur25" filterUnits="userSpaceOnUse" x="-40" y="-40" width="200" height="160"><feGaussianBlur stdDeviation="2.2"/></filter><linearGradient id="cbT" x1="0" y1="0" x2="0" y2="1"><stop offset="0" stop-color="#eeeee6"/><stop offset="0.015" stop-color="#ffffd0"/><stop offset="0.08" stop-color="#ffff00"/><stop offset="0.16" stop-color="#ff9900"/><stop offset="0.21" stop-color="#ff3300"/><stop offset="0.26" stop-color="#ff0000"/><stop offset="0.42" stop-color="#d80000"/><stop offset="0.51" stop-color="#c00000"/><stop offset="0.6" stop-color="#a80000"/><stop offset="0.69" stop-color="#900000"/><stop offset="0.78" stop-color="#780000"/><stop offset="0.815" stop-color="#640404"/><stop offset="0.87" stop-color="#8a3444"/><stop offset="0.92" stop-color="#a07088"/><stop offset="0.97" stop-color="#a8a0d0"/><stop offset="1" stop-color="#a8c0f8"/></linearGradient><linearGradient id="cbJ" x1="0" y1="0" x2="0" y2="1"><stop offset="0" stop-color="#ff1800"/><stop offset="0.11" stop-color="#ff5000"/><stop offset="0.23" stop-color="#ff9000"/><stop offset="0.31" stop-color="#ffcc00"/><stop offset="0.37" stop-color="#ffff00"/><stop offset="0.44" stop-color="#a0f000"/><stop offset="0.51" stop-color="#10e000"/><stop offset="0.59" stop-color="#00e0a0"/><stop offset="0.65" stop-color="#00e0e0"/><stop offset="0.77" stop-color="#00a0ff"/><stop offset="0.87" stop-color="#0060ff"/><stop offset="1" stop-color="#0010ff"/></linearGradient><radialGradient id="rg1" cx="0.5" cy="0.5" r="0.5"><stop offset="0" stop-color="#ff7400" stop-opacity="1.0"/><stop offset="1" stop-color="#ff7400" stop-opacity="0"/></radialGradient><radialGradient id="rg2" cx="0.5" cy="0.5" r="0.5"><stop offset="0" stop-color="#ff4a00" stop-opacity="1.0"/><stop offset="1" stop-color="#ff4a00" stop-opacity="0"/></radialGradient><radialGradient id="rg3" cx="0.5" cy="0.5" r="0.5"><stop offset="0" stop-color="#e0d4fa" stop-opacity="1.0"/><stop offset="1" stop-color="#e0d4fa" stop-opacity="0"/></radialGradient><radialGradient id="rg4" cx="0.5" cy="0.5" r="0.5"><stop offset="0" stop-color="#10d4fa" stop-opacity="1.0"/><stop offset="1" stop-color="#10d4fa" stop-opacity="0"/></radialGradient><radialGradient id="rg5" cx="0.5" cy="0.5" r="0.5"><stop offset="0" stop-color="#1080f0" stop-opacity="0.6"/><stop offset="1" stop-color="#1080f0" stop-opacity="0"/></radialGradient><radialGradient id="rg6" cx="0.5" cy="0.5" r="0.5"><stop offset="0" stop-color="#1494f4" stop-opacity="0.8"/><stop offset="1" stop-color="#1494f4" stop-opacity="0"/></radialGradient><radialGradient id="rg7" cx="0.5" cy="0.5" r="0.5"><stop offset="0" stop-color="#08e8f4" stop-opacity="1.0"/><stop offset="1" stop-color="#08e8f4" stop-opacity="0"/></radialGradient><radialGradient id="rg8" cx="0.5" cy="0.5" r="0.5"><stop offset="0" stop-color="#ffc800" stop-opacity="1.0"/><stop offset="1" stop-color="#ffc800" stop-opacity="0"/></radialGradient><radialGradient id="rg9" cx="0.5" cy="0.5" r="0.5"><stop offset="0" stop-color="#ffb000" stop-opacity="1.0"/><stop offset="1" stop-color="#ffb000" stop-opacity="0"/></radialGradient><clipPath id="c10"><path d="M0,0 L107.40,0 C111.90,11.25 118.70,21.08 118.70,37.50 C118.70,53.92 111.90,63.75 107.40,75.0 L0,75.0 Q-12.80,37.5 0,0 Z"/></clipPath><clipPath id="ca11"><path d="M0,0 L43.40,0 Q37.40,37.5 43.40,75.0 L0,75.0 Q-12.80,37.5 0,0 Z"/></clipPath><clipPath id="cb12"><path d="M43.40,0 L85.60,0 C85.60,18.75 98.60,15.00 98.60,37.5 C98.60,60.00 85.60,56.25 85.60,75.0 L43.40,75.0 Q37.40,37.5 43.40,0 Z"/></clipPath><clipPath id="cc13"><path d="M85.60,0 L107.40,0 C111.90,11.25 118.70,21.08 118.70,37.50 C118.70,53.92 111.90,63.75 107.40,75.0 L85.60,75.0 C85.60,56.25 98.60,60.00 98.60,37.5 C98.60,15.00 85.60,18.75 85.60,0 Z"/></clipPath><clipPath id="c14"><path d="M0,0 L107.40,0 C111.90,11.25 118.70,21.08 118.70,37.50 C118.70,53.92 111.90,63.75 107.40,75.0 L0,75.0 Q-12.80,37.5 0,0 Z"/></clipPath><clipPath id="ca15"><path d="M0,0 L43.40,0 Q37.40,37.5 43.40,75.0 L0,75.0 Q-12.80,37.5 0,0 Z"/></clipPath><clipPath id="cb16"><path d="M43.40,0 L85.60,0 C85.60,18.75 98.60,15.00 98.60,37.5 C98.60,60.00 85.60,56.25 85.60,75.0 L43.40,75.0 Q37.40,37.5 43.40,0 Z"/></clipPath><clipPath id="cc17"><path d="M85.60,0 L107.40,0 C111.90,11.25 118.70,21.08 118.70,37.50 C118.70,53.92 111.90,63.75 107.40,75.0 L85.60,75.0 C85.60,56.25 98.60,60.00 98.60,37.5 C98.60,15.00 85.60,18.75 85.60,0 Z"/></clipPath><clipPath id="c18"><path d="M0,0 L107.40,0 C111.90,11.25 118.70,21.08 118.70,37.50 C118.70,53.92 111.90,63.75 107.40,75.0 L0,75.0 Q-12.80,37.5 0,0 Z"/></clipPath><clipPath id="ca19"><path d="M0,0 L43.40,0 Q37.40,37.5 43.40,75.0 L0,75.0 Q-12.80,37.5 0,0 Z"/></clipPath><clipPath id="cb20"><path d="M43.40,0 L85.60,0 C85.60,18.75 98.60,15.00 98.60,37.5 C98.60,60.00 85.60,56.25 85.60,75.0 L43.40,75.0 Q37.40,37.5 43.40,0 Z"/></clipPath><clipPath id="cc21"><path d="M85.60,0 L107.40,0 C111.90,11.25 118.70,21.08 118.70,37.50 C118.70,53.92 111.90,63.75 107.40,75.0 L85.60,75.0 C85.60,56.25 98.60,60.00 98.60,37.5 C98.60,15.00 85.60,18.75 85.60,0 Z"/></clipPath><clipPath id="c22"><path d="M0,0 L105.90,0 C110.31,11.03 117.04,20.65 117.04,36.75 C117.04,52.85 110.31,62.48 105.90,73.5 L0,73.5 Q-12.62,36.75 0,0 Z"/></clipPath><clipPath id="ca23"><path d="M0,0 L42.79,0 Q36.88,36.75 42.79,73.5 L0,73.5 Q-12.62,36.75 0,0 Z"/></clipPath><clipPath id="cb24"><path d="M42.79,0 L84.40,0 C84.40,18.38 97.22,14.70 97.22,36.75 C97.22,58.80 84.40,55.12 84.40,73.5 L42.79,73.5 Q36.88,36.75 42.79,0 Z"/></clipPath><clipPath id="cc25"><path d="M84.40,0 L105.90,0 C110.31,11.03 117.04,20.65 117.04,36.75 C117.04,52.85 110.31,62.48 105.90,73.5 L84.40,73.5 C84.40,55.12 97.22,58.80 97.22,36.75 C97.22,14.70 84.40,18.38 84.40,0 Z"/></clipPath><clipPath id="c26"><path d="M0,0 L105.90,0 C110.31,11.03 117.04,20.65 117.04,36.75 C117.04,52.85 110.31,62.48 105.90,73.5 L0,73.5 Q-12.62,36.75 0,0 Z"/></clipPath><clipPath id="ca27"><path d="M0,0 L42.79,0 Q36.88,36.75 42.79,73.5 L0,73.5 Q-12.62,36.75 0,0 Z"/></clipPath><clipPath id="cb28"><path d="M42.79,0 L84.40,0 C84.40,18.38 97.22,14.70 97.22,36.75 C97.22,58.80 84.40,55.12 84.40,73.5 L42.79,73.5 Q36.88,36.75 42.79,0 Z"/></clipPath><clipPath id="cc29"><path d="M84.40,0 L105.90,0 C110.31,11.03 117.04,20.65 117.04,36.75 C117.04,52.85 110.31,62.48 105.90,73.5 L84.40,73.5 C84.40,55.12 97.22,58.80 97.22,36.75 C97.22,14.70 84.40,18.38 84.40,0 Z"/></clipPath><clipPath id="c30"><path d="M0,0 L105.90,0 C110.31,11.03 117.04,20.65 117.04,36.75 C117.04,52.85 110.31,62.48 105.90,73.5 L0,73.5 Q-12.62,36.75 0,0 Z"/></clipPath><clipPath id="ca31"><path d="M0,0 L42.79,0 Q36.88,36.75 42.79,73.5 L0,73.5 Q-12.62,36.75 0,0 Z"/></clipPath><clipPath id="cb32"><path d="M42.79,0 L84.40,0 C84.40,18.38 97.22,14.70 97.22,36.75 C97.22,58.80 84.40,55.12 84.40,73.5 L42.79,73.5 Q36.88,36.75 42.79,0 Z"/></clipPath><clipPath id="cc33"><path d="M84.40,0 L105.90,0 C110.31,11.03 117.04,20.65 117.04,36.75 C117.04,52.85 110.31,62.48 105.90,73.5 L84.40,73.5 C84.40,55.12 97.22,58.80 97.22,36.75 C97.22,14.70 84.40,18.38 84.40,0 Z"/></clipPath><clipPath id="c34"><path d="M0,0 L105.90,0 C110.27,10.92 117.04,20.46 117.04,36.40 C117.04,52.34 110.27,61.88 105.90,72.8 L0,72.8 Q-12.62,36.4 0,0 Z"/></clipPath><clipPath id="ca35"><path d="M0,0 L42.79,0 Q36.88,36.4 42.79,72.8 L0,72.8 Q-12.62,36.4 0,0 Z"/></clipPath><clipPath id="cb36"><path d="M42.79,0 L84.40,0 C84.40,18.20 97.22,14.56 97.22,36.4 C97.22,58.24 84.40,54.60 84.40,72.8 L42.79,72.8 Q36.88,36.4 42.79,0 Z"/></clipPath><clipPath id="cc37"><path d="M84.40,0 L105.90,0 C110.27,10.92 117.04,20.46 117.04,36.40 C117.04,52.34 110.27,61.88 105.90,72.8 L84.40,72.8 C84.40,54.60 97.22,58.24 97.22,36.4 C97.22,14.56 84.40,18.20 84.40,0 Z"/></clipPath><clipPath id="c38"><path d="M0,0 L105.90,0 C110.27,10.92 117.04,20.46 117.04,36.40 C117.04,52.34 110.27,61.88 105.90,72.8 L0,72.8 Q-12.62,36.4 0,0 Z"/></clipPath><clipPath id="ca39"><path d="M0,0 L42.79,0 Q36.88,36.4 42.79,72.8 L0,72.8 Q-12.62,36.4 0,0 Z"/></clipPath><clipPath id="cb40"><path d="M42.79,0 L84.40,0 C84.40,18.20 97.22,14.56 97.22,36.4 C97.22,58.24 84.40,54.60 84.40,72.8 L42.79,72.8 Q36.88,36.4 42.79,0 Z"/></clipPath><clipPath id="cc41"><path d="M84.40,0 L105.90,0 C110.27,10.92 117.04,20.46 117.04,36.40 C117.04,52.34 110.27,61.88 105.90,72.8 L84.40,72.8 C84.40,54.60 97.22,58.24 97.22,36.4 C97.22,14.56 84.40,18.20 84.40,0 Z"/></clipPath><clipPath id="c42"><path d="M0,0 L105.90,0 C110.27,10.92 117.04,20.46 117.04,36.40 C117.04,52.34 110.27,61.88 105.90,72.8 L0,72.8 Q-12.62,36.4 0,0 Z"/></clipPath><clipPath id="ca43"><path d="M0,0 L42.79,0 Q36.88,36.4 42.79,72.8 L0,72.8 Q-12.62,36.4 0,0 Z"/></clipPath><clipPath id="cb44"><path d="M42.79,0 L84.40,0 C84.40,18.20 97.22,14.56 97.22,36.4 C97.22,58.24 84.40,54.60 84.40,72.8 L42.79,72.8 Q36.88,36.4 42.79,0 Z"/></clipPath><clipPath id="cc45"><path d="M84.40,0 L105.90,0 C110.27,10.92 117.04,20.46 117.04,36.40 C117.04,52.34 110.27,61.88 105.90,72.8 L84.40,72.8 C84.40,54.60 97.22,58.24 97.22,36.4 C97.22,14.56 84.40,18.20 84.40,0 Z"/></clipPath><clipPath id="c46"><path d="M0,0 L106.65,0 C111.07,11.05 117.87,20.71 117.87,36.85 C117.87,52.99 111.07,62.65 106.65,73.7 L0,73.7 Q-12.71,36.85 0,0 Z"/></clipPath><clipPath id="ca47"><path d="M0,0 L43.10,0 Q37.14,36.85 43.10,73.7 L0,73.7 Q-12.71,36.85 0,0 Z"/></clipPath><clipPath id="cb48"><path d="M43.10,0 L85.00,0 C85.00,18.43 97.91,14.74 97.91,36.85 C97.91,58.96 85.00,55.28 85.00,73.7 L43.10,73.7 Q37.14,36.85 43.10,0 Z"/></clipPath><clipPath id="cc49"><path d="M85.00,0 L106.65,0 C111.07,11.05 117.87,20.71 117.87,36.85 C117.87,52.99 111.07,62.65 106.65,73.7 L85.00,73.7 C85.00,55.28 97.91,58.96 97.91,36.85 C97.91,14.74 85.00,18.43 85.00,0 Z"/></clipPath><clipPath id="c50"><path d="M0,0 L106.65,0 C111.07,11.05 117.87,20.71 117.87,36.85 C117.87,52.99 111.07,62.65 106.65,73.7 L0,73.7 Q-12.71,36.85 0,0 Z"/></clipPath><clipPath id="ca51"><path d="M0,0 L43.10,0 Q37.14,36.85 43.10,73.7 L0,73.7 Q-12.71,36.85 0,0 Z"/></clipPath><clipPath id="cb52"><path d="M43.10,0 L85.00,0 C85.00,18.43 97.91,14.74 97.91,36.85 C97.91,58.96 85.00,55.28 85.00,73.7 L43.10,73.7 Q37.14,36.85 43.10,0 Z"/></clipPath><clipPath id="cc53"><path d="M85.00,0 L106.65,0 C111.07,11.05 117.87,20.71 117.87,36.85 C117.87,52.99 111.07,62.65 106.65,73.7 L85.00,73.7 C85.00,55.28 97.91,58.96 97.91,36.85 C97.91,14.74 85.00,18.43 85.00,0 Z"/></clipPath><clipPath id="c54"><path d="M0,0 L106.65,0 C111.07,11.05 117.87,20.71 117.87,36.85 C117.87,52.99 111.07,62.65 106.65,73.7 L0,73.7 Q-12.71,36.85 0,0 Z"/></clipPath><clipPath id="ca55"><path d="M0,0 L43.10,0 Q37.14,36.85 43.10,73.7 L0,73.7 Q-12.71,36.85 0,0 Z"/></clipPath><clipPath id="cb56"><path d="M43.10,0 L85.00,0 C85.00,18.43 97.91,14.74 97.91,36.85 C97.91,58.96 85.00,55.28 85.00,73.7 L43.10,73.7 Q37.14,36.85 43.10,0 Z"/></clipPath><clipPath id="cc57"><path d="M85.00,0 L106.65,0 C111.07,11.05 117.87,20.71 117.87,36.85 C117.87,52.99 111.07,62.65 106.65,73.7 L85.00,73.7 C85.00,55.28 97.91,58.96 97.91,36.85 C97.91,14.74 85.00,18.43 85.00,0 Z"/></clipPath></defs>
<text x="252.0" y="41.8">Temperature</text>
<text x="252.4" y="54.8"><tspan font-style="italic">T</tspan> [°C]</text>
<text x="249.6" y="196.8">Cooling rate</text>
<text x="250.0" y="210.4"><tspan font-style="italic">Ṫ</tspan> [°C/s]</text>
<text x="251.1" y="346.4">Pearlitic phase fraction</text>
<text x="250.4" y="360.0"><tspan font-style="italic">ξ</tspan><tspan font-size="7" dy="2">p</tspan><tspan dy="-2"> [Vol. %]</tspan></text>
<text x="250.9" y="501.8">Tangential residual stress</text>
<text x="250.0" y="515.1"><tspan font-style="italic">σ</tspan><tspan font-size="7" dy="2">t</tspan><tspan dy="-2"> [MPa]</tspan></text>
<rect x="250.3" y="61.0" width="8.7" height="92.65" fill="url(#cbT)"/>
<rect x="250.0" y="216.9" width="7.9" height="90.6" fill="url(#cbJ)"/>
<rect x="251.3" y="366.5" width="7.9" height="91.0" fill="url(#cbJ)"/>
<rect x="250.5" y="521.9" width="7.9" height="90.6" fill="url(#cbJ)"/>
<text x="261.3" y="69.7">1000</text>
<text x="261.3" y="90.7">750</text>
<text x="261.3" y="111.7">500</text>
<text x="261.3" y="132.7">250</text>
<text x="261.3" y="153.7">0</text>
<text x="259.8" y="225.1">0</text>
<text x="259.8" y="245.8">-1</text>
<text x="259.8" y="266.3">-2</text>
<text x="259.8" y="286.8">-3</text>
<text x="259.8" y="307.3">-4</text>
<text x="261.0" y="374.7">100</text>
<text x="261.0" y="395.2">75</text>
<text x="261.0" y="415.7">50</text>
<text x="261.0" y="436.2">25</text>
<text x="261.0" y="456.8">0</text>
<text x="260.3" y="530.1">80</text>
<text x="260.3" y="550.6">40</text>
<text x="260.3" y="571.1">0</text>
<text x="260.3" y="591.6">-40</text>
<text x="260.3" y="612.2">-80</text>
<g transform="translate(296.35,68.8)">
<path d="M0,0 L43.40,0 Q37.40,37.5 43.40,75.0 L0,75.0 Q-12.80,37.5 0,0 Z" fill="#ff5400"/>
<g clip-path="url(#ca11)">
<ellipse cx="28" cy="37.50" rx="30" ry="48.75" fill="url(#rg1)"/>
</g>
<path d="M43.40,0 L85.60,0 C85.60,18.75 98.60,15.00 98.60,37.5 C98.60,60.00 85.60,56.25 85.60,75.0 L43.40,75.0 Q37.40,37.5 43.40,0 Z" fill="#ff3800"/>
<g clip-path="url(#cb12)">
<ellipse cx="55" cy="37.50" rx="28" ry="45.00" fill="url(#rg2)"/>
</g>
<path d="M85.60,0 L107.40,0 C111.90,11.25 118.70,21.08 118.70,37.50 C118.70,53.92 111.90,63.75 107.40,75.0 L85.60,75.0 C85.60,56.25 98.60,60.00 98.60,37.5 C98.60,15.00 85.60,18.75 85.60,0 Z" fill="#ff0c00"/>
<g clip-path="url(#cb12)">
<path d="M43.40,0 L85.60,0 C85.60,18.75 98.60,15.00 98.60,37.5 C98.60,60.00 85.60,56.25 85.60,75.0 L43.40,75.0 Q37.40,37.5 43.40,0 Z" fill="url(#bshade)" opacity="0.48"/>
<path d="M43.40,0 L85.60,0 C85.60,18.75 98.60,15.00 98.60,37.5 C98.60,60.00 85.60,56.25 85.60,75.0 L43.40,75.0 Q37.40,37.5 43.40,0 Z" fill="url(#bvert)" opacity="0.48"/>
<path d="M43.40,0 Q37.40,37.5 43.40,75.0" fill="none" stroke="#000" stroke-width="6" opacity="0.43" filter="url(#blur2)"/>
<path d="M85.60,0 C85.60,18.75 98.60,15.00 98.60,37.5 C98.60,60.00 85.60,56.25 85.60,75.0" fill="none" stroke="#000" stroke-width="12" opacity="0.43" filter="url(#blur3)"/>
</g>
<path d="M43.40,0 Q37.40,37.5 43.40,75.0" fill="none" stroke="#000" stroke-width="0.8" opacity="0.48"/>
<path d="M85.60,0 C85.60,18.75 98.60,15.00 98.60,37.5 C98.60,60.00 85.60,56.25 85.60,75.0" fill="none" stroke="#000" stroke-width="0.8" opacity="0.48"/>
</g>
<g transform="translate(429.75,68.8)">
<path d="M0,0 L43.40,0 Q37.40,37.5 43.40,75.0 L0,75.0 Q-12.80,37.5 0,0 Z" fill="#ff0000"/>
<path d="M43.40,0 L85.60,0 C85.60,18.75 98.60,15.00 98.60,37.5 C98.60,60.00 85.60,56.25 85.60,75.0 L43.40,75.0 Q37.40,37.5 43.40,0 Z" fill="#ff0000"/>
<path d="M85.60,0 L107.40,0 C111.90,11.25 118.70,21.08 118.70,37.50 C118.70,53.92 111.90,63.75 107.40,75.0 L85.60,75.0 C85.60,56.25 98.60,60.00 98.60,37.5 C98.60,15.00 85.60,18.75 85.60,0 Z" fill="#ff0000"/>
<g clip-path="url(#cb16)">
<path d="M43.40,0 L85.60,0 C85.60,18.75 98.60,15.00 98.60,37.5 C98.60,60.00 85.60,56.25 85.60,75.0 L43.40,75.0 Q37.40,37.5 43.40,0 Z" fill="url(#bshade)" opacity="0.5"/>
<path d="M43.40,0 L85.60,0 C85.60,18.75 98.60,15.00 98.60,37.5 C98.60,60.00 85.60,56.25 85.60,75.0 L43.40,75.0 Q37.40,37.5 43.40,0 Z" fill="url(#bvert)" opacity="0.5"/>
<path d="M43.40,0 Q37.40,37.5 43.40,75.0" fill="none" stroke="#000" stroke-width="6" opacity="0.45" filter="url(#blur2)"/>
<path d="M85.60,0 C85.60,18.75 98.60,15.00 98.60,37.5 C98.60,60.00 85.60,56.25 85.60,75.0" fill="none" stroke="#000" stroke-width="12" opacity="0.45" filter="url(#blur3)"/>
</g>
<path d="M43.40,0 Q37.40,37.5 43.40,75.0" fill="none" stroke="#000" stroke-width="0.8" opacity="0.50"/>
<path d="M85.60,0 C85.60,18.75 98.60,15.00 98.60,37.5 C98.60,60.00 85.60,56.25 85.60,75.0" fill="none" stroke="#000" stroke-width="0.8" opacity="0.50"/>
</g>
<g transform="translate(564.75,68.8)">
<path d="M0,0 L43.40,0 Q37.40,37.5 43.40,75.0 L0,75.0 Q-12.80,37.5 0,0 Z" fill="#dacbf6"/>
<path d="M43.40,0 L85.60,0 C85.60,18.75 98.60,15.00 98.60,37.5 C98.60,60.00 85.60,56.25 85.60,75.0 L43.40,75.0 Q37.40,37.5 43.40,0 Z" fill="#d4c6f0"/>
<g clip-path="url(#cb20)">
<ellipse cx="62" cy="37.50" rx="16" ry="22.50" fill="url(#rg3)"/>
</g>
<path d="M85.60,0 L107.40,0 C111.90,11.25 118.70,21.08 118.70,37.50 C118.70,53.92 111.90,63.75 107.40,75.0 L85.60,75.0 C85.60,56.25 98.60,60.00 98.60,37.5 C98.60,15.00 85.60,18.75 85.60,0 Z" fill="#dacbf6"/>
<g clip-path="url(#cb20)">
<path d="M43.40,0 L85.60,0 C85.60,18.75 98.60,15.00 98.60,37.5 C98.60,60.00 85.60,56.25 85.60,75.0 L43.40,75.0 Q37.40,37.5 43.40,0 Z" fill="url(#bshade)" opacity="0.5"/>
<path d="M43.40,0 L85.60,0 C85.60,18.75 98.60,15.00 98.60,37.5 C98.60,60.00 85.60,56.25 85.60,75.0 L43.40,75.0 Q37.40,37.5 43.40,0 Z" fill="url(#bvert)" opacity="0.5"/>
<path d="M43.40,0 Q37.40,37.5 43.40,75.0" fill="none" stroke="#000" stroke-width="8" opacity="0.45" filter="url(#blur2)"/>
<path d="M85.60,0 C85.60,18.75 98.60,15.00 98.60,37.5 C98.60,60.00 85.60,56.25 85.60,75.0" fill="none" stroke="#000" stroke-width="13" opacity="0.45" filter="url(#blur3)"/>
</g>
<path d="M43.40,0 Q37.40,37.5 43.40,75.0" fill="none" stroke="#000" stroke-width="0.8" opacity="0.50"/>
<path d="M85.60,0 C85.60,18.75 98.60,15.00 98.60,37.5 C98.60,60.00 85.60,56.25 85.60,75.0" fill="none" stroke="#000" stroke-width="0.8" opacity="0.50"/>
</g>
<g transform="translate(296.8,223.5)">
<path d="M0,0 L42.79,0 Q36.88,36.75 42.79,73.5 L0,73.5 Q-12.62,36.75 0,0 Z" fill="#1a9cf2"/>
<g clip-path="url(#ca23)">
<ellipse cx="25" cy="33.81" rx="40" ry="66.15" fill="url(#rg4)"/>
<ellipse cx="26" cy="71.30" rx="16" ry="7.35" fill="url(#rg5)"/>
</g>
<path d="M42.79,0 L84.40,0 C84.40,18.38 97.22,14.70 97.22,36.75 C97.22,58.80 84.40,55.12 84.40,73.5 L42.79,73.5 Q36.88,36.75 42.79,0 Z" fill="#0c86f2"/>
<g clip-path="url(#cb24)">
<ellipse cx="64" cy="36.75" rx="22" ry="36.75" fill="url(#rg6)"/>
</g>
<path d="M84.40,0 L105.90,0 C110.31,11.03 117.04,20.65 117.04,36.75 C117.04,52.85 110.31,62.48 105.90,73.5 L84.40,73.5 C84.40,55.12 97.22,58.80 97.22,36.75 C97.22,14.70 84.40,18.38 84.40,0 Z" fill="#16b0f4"/>
<g clip-path="url(#cc25)">
<ellipse cx="96" cy="1.47" rx="16" ry="16.17" fill="url(#rg7)"/>
</g>
<g clip-path="url(#cb24)">
<path d="M42.79,0 L84.40,0 C84.40,18.38 97.22,14.70 97.22,36.75 C97.22,58.80 84.40,55.12 84.40,73.5 L42.79,73.5 Q36.88,36.75 42.79,0 Z" fill="url(#bshade)" opacity="0.48"/>
<path d="M42.79,0 L84.40,0 C84.40,18.38 97.22,14.70 97.22,36.75 C97.22,58.80 84.40,55.12 84.40,73.5 L42.79,73.5 Q36.88,36.75 42.79,0 Z" fill="url(#bvert)" opacity="0.48"/>
<path d="M42.79,0 Q36.88,36.75 42.79,73.5" fill="none" stroke="#000" stroke-width="6" opacity="0.43" filter="url(#blur2)"/>
<path d="M84.40,0 C84.40,18.38 97.22,14.70 97.22,36.75 C97.22,58.80 84.40,55.12 84.40,73.5" fill="none" stroke="#000" stroke-width="12" opacity="0.43" filter="url(#blur3)"/>
</g>
<path d="M42.79,0 Q36.88,36.75 42.79,73.5" fill="none" stroke="#000" stroke-width="0.8" opacity="0.48"/>
<path d="M84.40,0 C84.40,18.38 97.22,14.70 97.22,36.75 C97.22,58.80 84.40,55.12 84.40,73.5" fill="none" stroke="#000" stroke-width="0.8" opacity="0.48"/>
</g>
<g transform="translate(430.2,223.5)">
<path d="M0,0 L42.79,0 Q36.88,36.75 42.79,73.5 L0,73.5 Q-12.62,36.75 0,0 Z" fill="#ffc000"/>
<g clip-path="url(#ca27)">
<ellipse cx="30" cy="36.75" rx="30" ry="44.10" fill="url(#rg8)"/>
</g>
<path d="M42.79,0 L84.40,0 C84.40,18.38 97.22,14.70 97.22,36.75 C97.22,58.80 84.40,55.12 84.40,73.5 L42.79,73.5 Q36.88,36.75 42.79,0 Z" fill="#ffa200"/>
<g clip-path="url(#cb28)">
<ellipse cx="62" cy="36.75" rx="22" ry="36.75" fill="url(#rg9)"/>
</g>
<path d="M84.40,0 L105.90,0 C110.31,11.03 117.04,20.65 117.04,36.75 C117.04,52.85 110.31,62.48 105.90,73.5 L84.40,73.5 C84.40,55.12 97.22,58.80 97.22,36.75 C97.22,14.70 84.40,18.38 84.40,0 Z" fill="#ffaa00"/>
<g clip-path="url(#cb28)">
<path d="M42.79,0 L84.40,0 C84.40,18.38 97.22,14.70 97.22,36.75 C97.22,58.80 84.40,55.12 84.40,73.5 L42.79,73.5 Q36.88,36.75 42.79,0 Z" fill="url(#bshade)" opacity="0.5"/>
<path d="M42.79,0 L84.40,0 C84.40,18.38 97.22,14.70 97.22,36.75 C97.22,58.80 84.40,55.12 84.40,73.5 L42.79,73.5 Q36.88,36.75 42.79,0 Z" fill="url(#bvert)" opacity="0.5"/>
<path d="M42.79,0 Q36.88,36.75 42.79,73.5" fill="none" stroke="#000" stroke-width="6" opacity="0.45" filter="url(#blur2)"/>
<path d="M84.40,0 C84.40,18.38 97.22,14.70 97.22,36.75 C97.22,58.80 84.40,55.12 84.40,73.5" fill="none" stroke="#000" stroke-width="12" opacity="0.45" filter="url(#blur3)"/>
</g>
<path d="M42.79,0 Q36.88,36.75 42.79,73.5" fill="none" stroke="#000" stroke-width="0.8" opacity="0.50"/>
<path d="M84.40,0 C84.40,18.38 97.22,14.70 97.22,36.75 C97.22,58.80 84.40,55.12 84.40,73.5" fill="none" stroke="#000" stroke-width="0.8" opacity="0.50"/>
</g>
<g transform="translate(565.2,223.5)">
<path d="M0,0 L42.79,0 Q36.88,36.75 42.79,73.5 L0,73.5 Q-12.62,36.75 0,0 Z" fill="#ff3800"/>
<path d="M42.79,0 L84.40,0 C84.40,18.38 97.22,14.70 97.22,36.75 C97.22,58.80 84.40,55.12 84.40,73.5 L42.79,73.5 Q36.88,36.75 42.79,0 Z" fill="#ff3400"/>
<path d="M84.40,0 L105.90,0 C110.31,11.03 117.04,20.65 117.04,36.75 C117.04,52.85 110.31,62.48 105.90,73.5 L84.40,73.5 C84.40,55.12 97.22,58.80 97.22,36.75 C97.22,14.70 84.40,18.38 84.40,0 Z" fill="#ff3800"/>
<g clip-path="url(#cb32)">
<path d="M42.79,0 L84.40,0 C84.40,18.38 97.22,14.70 97.22,36.75 C97.22,58.80 84.40,55.12 84.40,73.5 L42.79,73.5 Q36.88,36.75 42.79,0 Z" fill="url(#bshade)" opacity="0.42"/>
<path d="M42.79,0 L84.40,0 C84.40,18.38 97.22,14.70 97.22,36.75 C97.22,58.80 84.40,55.12 84.40,73.5 L42.79,73.5 Q36.88,36.75 42.79,0 Z" fill="url(#bvert)" opacity="0.42"/>
<path d="M42.79,0 Q36.88,36.75 42.79,73.5" fill="none" stroke="#000" stroke-width="6" opacity="0.38" filter="url(#blur2)"/>
<path d="M84.40,0 C84.40,18.38 97.22,14.70 97.22,36.75 C97.22,58.80 84.40,55.12 84.40,73.5" fill="none" stroke="#000" stroke-width="12" opacity="0.38" filter="url(#blur3)"/>
</g>
<path d="M42.79,0 Q36.88,36.75 42.79,73.5" fill="none" stroke="#000" stroke-width="0.8" opacity="0.42"/>
<path d="M84.40,0 C84.40,18.38 97.22,14.70 97.22,36.75 C97.22,58.80 84.40,55.12 84.40,73.5" fill="none" stroke="#000" stroke-width="0.8" opacity="0.42"/>
</g>
<g transform="translate(297.0,375.1)">
<path d="M0,0 L42.79,0 Q36.88,36.4 42.79,72.8 L0,72.8 Q-12.62,36.4 0,0 Z" fill="#0535ff"/>
<path d="M42.79,0 L84.40,0 C84.40,18.20 97.22,14.56 97.22,36.4 C97.22,58.24 84.40,54.60 84.40,72.8 L42.79,72.8 Q36.88,36.4 42.79,0 Z" fill="#0533f8"/>
<g clip-path="url(#cb36)">
<path d="M53,-7.28 L72,36.40 L53,80.08 L110,80.08 L110,-7.28 Z" fill="#073dff" opacity="1" filter="url(#blur2)"/>
</g>
<path d="M84.40,0 L105.90,0 C110.27,10.92 117.04,20.46 117.04,36.40 C117.04,52.34 110.27,61.88 105.90,72.8 L84.40,72.8 C84.40,54.60 97.22,58.24 97.22,36.4 C97.22,14.56 84.40,18.20 84.40,0 Z" fill="#0540ff"/>
<g clip-path="url(#cb36)">
<path d="M42.79,0 L84.40,0 C84.40,18.20 97.22,14.56 97.22,36.4 C97.22,58.24 84.40,54.60 84.40,72.8 L42.79,72.8 Q36.88,36.4 42.79,0 Z" fill="url(#bshade)" opacity="0.5"/>
<path d="M42.79,0 L84.40,0 C84.40,18.20 97.22,14.56 97.22,36.4 C97.22,58.24 84.40,54.60 84.40,72.8 L42.79,72.8 Q36.88,36.4 42.79,0 Z" fill="url(#bvert)" opacity="0.5"/>
<path d="M42.79,0 Q36.88,36.4 42.79,72.8" fill="none" stroke="#000" stroke-width="6" opacity="0.45" filter="url(#blur2)"/>
<path d="M84.40,0 C84.40,18.20 97.22,14.56 97.22,36.4 C97.22,58.24 84.40,54.60 84.40,72.8" fill="none" stroke="#000" stroke-width="12" opacity="0.45" filter="url(#blur3)"/>
</g>
<path d="M42.79,0 Q36.88,36.4 42.79,72.8" fill="none" stroke="#000" stroke-width="0.8" opacity="0.50"/>
<path d="M84.40,0 C84.40,18.20 97.22,14.56 97.22,36.4 C97.22,58.24 84.40,54.60 84.40,72.8" fill="none" stroke="#000" stroke-width="0.8" opacity="0.50"/>
</g>
<g transform="translate(430.4,375.1)">
<path d="M0,0 L42.79,0 Q36.88,36.4 42.79,72.8 L0,72.8 Q-12.62,36.4 0,0 Z" fill="#ff3300"/>
<path d="M42.79,0 L84.40,0 C84.40,18.20 97.22,14.56 97.22,36.4 C97.22,58.24 84.40,54.60 84.40,72.8 L42.79,72.8 Q36.88,36.4 42.79,0 Z" fill="#ff3200"/>
<path d="M84.40,0 L105.90,0 C110.27,10.92 117.04,20.46 117.04,36.40 C117.04,52.34 110.27,61.88 105.90,72.8 L84.40,72.8 C84.40,54.60 97.22,58.24 97.22,36.4 C97.22,14.56 84.40,18.20 84.40,0 Z" fill="#ff3300"/>
<g clip-path="url(#cb40)">
<path d="M42.79,0 L84.40,0 C84.40,18.20 97.22,14.56 97.22,36.4 C97.22,58.24 84.40,54.60 84.40,72.8 L42.79,72.8 Q36.88,36.4 42.79,0 Z" fill="url(#bshade)" opacity="0.4"/>
<path d="M42.79,0 L84.40,0 C84.40,18.20 97.22,14.56 97.22,36.4 C97.22,58.24 84.40,54.60 84.40,72.8 L42.79,72.8 Q36.88,36.4 42.79,0 Z" fill="url(#bvert)" opacity="0.4"/>
<path d="M42.79,0 Q36.88,36.4 42.79,72.8" fill="none" stroke="#000" stroke-width="6" opacity="0.36" filter="url(#blur2)"/>
<path d="M84.40,0 C84.40,18.20 97.22,14.56 97.22,36.4 C97.22,58.24 84.40,54.60 84.40,72.8" fill="none" stroke="#000" stroke-width="12" opacity="0.36" filter="url(#blur3)"/>
</g>
<path d="M42.79,0 Q36.88,36.4 42.79,72.8" fill="none" stroke="#000" stroke-width="0.8" opacity="0.40"/>
<path d="M84.40,0 C84.40,18.20 97.22,14.56 97.22,36.4 C97.22,58.24 84.40,54.60 84.40,72.8" fill="none" stroke="#000" stroke-width="0.8" opacity="0.40"/>
</g>
<g transform="translate(565.4,375.1)">
<path d="M0,0 L42.79,0 Q36.88,36.4 42.79,72.8 L0,72.8 Q-12.62,36.4 0,0 Z" fill="#ff3300"/>
<path d="M42.79,0 L84.40,0 C84.40,18.20 97.22,14.56 97.22,36.4 C97.22,58.24 84.40,54.60 84.40,72.8 L42.79,72.8 Q36.88,36.4 42.79,0 Z" fill="#ff3200"/>
<path d="M84.40,0 L105.90,0 C110.27,10.92 117.04,20.46 117.04,36.40 C117.04,52.34 110.27,61.88 105.90,72.8 L84.40,72.8 C84.40,54.60 97.22,58.24 97.22,36.4 C97.22,14.56 84.40,18.20 84.40,0 Z" fill="#ff3300"/>
<g clip-path="url(#cb44)">
<path d="M42.79,0 L84.40,0 C84.40,18.20 97.22,14.56 97.22,36.4 C97.22,58.24 84.40,54.60 84.40,72.8 L42.79,72.8 Q36.88,36.4 42.79,0 Z" fill="url(#bshade)" opacity="0.4"/>
<path d="M42.79,0 L84.40,0 C84.40,18.20 97.22,14.56 97.22,36.4 C97.22,58.24 84.40,54.60 84.40,72.8 L42.79,72.8 Q36.88,36.4 42.79,0 Z" fill="url(#bvert)" opacity="0.4"/>
<path d="M42.79,0 Q36.88,36.4 42.79,72.8" fill="none" stroke="#000" stroke-width="6" opacity="0.36" filter="url(#blur2)"/>
<path d="M84.40,0 C84.40,18.20 97.22,14.56 97.22,36.4 C97.22,58.24 84.40,54.60 84.40,72.8" fill="none" stroke="#000" stroke-width="12" opacity="0.36" filter="url(#blur3)"/>
</g>
<path d="M42.79,0 Q36.88,36.4 42.79,72.8" fill="none" stroke="#000" stroke-width="0.8" opacity="0.40"/>
<path d="M84.40,0 C84.40,18.20 97.22,14.56 97.22,36.4 C97.22,58.24 84.40,54.60 84.40,72.8" fill="none" stroke="#000" stroke-width="0.8" opacity="0.40"/>
</g>
<g transform="translate(296.35,529.0)">
<path d="M0,0 L43.10,0 Q37.14,36.85 43.10,73.7 L0,73.7 Q-12.71,36.85 0,0 Z" fill="#f8f000"/>
<g clip-path="url(#ca47)">
<path d="M0,0 Q-12.71,36.85 0,73.7" fill="none" stroke="#ff9800" stroke-width="12" opacity="1" filter="url(#blur2)"/>
<path d="M0,0 Q-12.71,36.85 0,73.7" fill="none" stroke="#ff4a00" stroke-width="7" opacity="1" filter="url(#blur1)"/>
<path d="M0,0 L44,0" fill="none" stroke="#ffa000" stroke-width="3" opacity="1" filter="url(#blur1)"/>
<path d="M0,73.7 L44,73.7" fill="none" stroke="#ffa000" stroke-width="3" opacity="1" filter="url(#blur1)"/>
<rect x="9" y="4.79" width="43" height="64.49" rx="9" fill="#30e010" opacity="1" filter="url(#blur2)"/>
<rect x="13" y="8.84" width="39" height="55.64" rx="8" fill="#00ecec" opacity="1" filter="url(#blur2)"/>
<rect x="20" y="14.74" width="19" height="44.22" rx="8" fill="#0a9cff" opacity="1" filter="url(#blur2)"/>
<path d="M35,28.01 L46,36.85 L35,45.69 Z" fill="#00ecec" opacity="1" filter="url(#blur2)"/>
<ellipse cx="28.5" cy="36.85" rx="6" ry="14.74" fill="#0a70ff" opacity="1" filter="url(#blur2)"/>
<ellipse cx="28" cy="36.85" rx="3" ry="7.37" fill="#0a50ff" opacity="1" filter="url(#blur2)"/>
<ellipse cx="41" cy="2.95" rx="4" ry="4.42" fill="#ff8000" opacity="1" filter="url(#blur1)"/>
<ellipse cx="41" cy="70.75" rx="4" ry="4.42" fill="#ff8000" opacity="1" filter="url(#blur1)"/>
</g>
<path d="M43.10,0 L85.00,0 C85.00,18.43 97.91,14.74 97.91,36.85 C97.91,58.96 85.00,55.28 85.00,73.7 L43.10,73.7 Q37.14,36.85 43.10,0 Z" fill="#f8f000"/>
<g clip-path="url(#cb48)">
<path d="M38,14.74 L60,20.64 L84,36.11 L60,53.06 L38,58.96 Z" fill="#30e010" opacity="1" filter="url(#blur2)"/>
<path d="M38,18.43 L62,24.32 L72,29.48 L55,33.16 L38,33.16 Z" fill="#00ecec" opacity="1" filter="url(#blur2)"/>
<path d="M38,40.54 L55,40.54 L72,44.22 L62,49.38 L38,55.28 Z" fill="#00ecec" opacity="1" filter="url(#blur2)"/>
<ellipse cx="47" cy="2.21" rx="6" ry="3.69" fill="#ff7000" opacity="1" filter="url(#blur1)"/>
<ellipse cx="47" cy="71.49" rx="6" ry="3.69" fill="#ff7000" opacity="1" filter="url(#blur1)"/>
<ellipse cx="80" cy="11.79" rx="9" ry="11.79" fill="#ff7000" opacity="1" filter="url(#blur3)"/>
<ellipse cx="80" cy="61.91" rx="9" ry="11.79" fill="#ff7000" opacity="1" filter="url(#blur3)"/>
<ellipse cx="84" cy="11.79" rx="5" ry="9.58" fill="#d01000" opacity="1" filter="url(#blur2)"/>
<ellipse cx="84" cy="61.91" rx="5" ry="9.58" fill="#d01000" opacity="1" filter="url(#blur2)"/>
<ellipse cx="87" cy="12.53" rx="3" ry="7.37" fill="#900000" opacity="1" filter="url(#blur1)"/>
<ellipse cx="87" cy="61.17" rx="3" ry="7.37" fill="#900000" opacity="1" filter="url(#blur1)"/>
</g>
<path d="M85.00,0 L106.65,0 C111.07,11.05 117.87,20.71 117.87,36.85 C117.87,52.99 111.07,62.65 106.65,73.7 L85.00,73.7 C85.00,55.28 97.91,58.96 97.91,36.85 C97.91,14.74 85.00,18.43 85.00,0 Z" fill="#f8f000"/>
<g clip-path="url(#cc49)">
<path d="M85.00,0 C85.00,18.43 97.91,14.74 97.91,36.85 C97.91,58.96 85.00,55.28 85.00,73.7" fill="none" stroke="#ff1000" stroke-width="4" opacity="0.0" filter="url(#blur1)"/>
<ellipse cx="88" cy="11.79" rx="3.5" ry="9.58" fill="#ff1a00" opacity="1" filter="url(#blur1)"/>
<ellipse cx="88" cy="61.91" rx="3.5" ry="9.58" fill="#ff1a00" opacity="1" filter="url(#blur1)"/>
<ellipse cx="97" cy="4.42" rx="8" ry="5.90" fill="#40e020" opacity="1" filter="url(#blur2)"/>
<ellipse cx="97" cy="69.28" rx="8" ry="5.90" fill="#40e020" opacity="1" filter="url(#blur2)"/>
<ellipse cx="97" cy="4.42" rx="5" ry="2.95" fill="#00e8f0" opacity="1" filter="url(#blur1)"/>
<ellipse cx="97" cy="69.28" rx="5" ry="2.95" fill="#00e8f0" opacity="1" filter="url(#blur1)"/>
<ellipse cx="106" cy="36.85" rx="6" ry="14.74" fill="#40e020" opacity="1" filter="url(#blur2)"/>
<ellipse cx="106" cy="36.85" rx="2.5" ry="7.37" fill="#00e8f0" opacity="1" filter="url(#blur1)"/>
<ellipse cx="108" cy="5.90" rx="5" ry="7.37" fill="#20e0b0" opacity="1" filter="url(#blur2)"/>
<ellipse cx="108" cy="67.80" rx="5" ry="7.37" fill="#20e0b0" opacity="1" filter="url(#blur2)"/>
</g>
<g clip-path="url(#cb48)">
<path d="M43.10,0 L85.00,0 C85.00,18.43 97.91,14.74 97.91,36.85 C97.91,58.96 85.00,55.28 85.00,73.7 L43.10,73.7 Q37.14,36.85 43.10,0 Z" fill="url(#bshade)" opacity="0.35"/>
<path d="M43.10,0 L85.00,0 C85.00,18.43 97.91,14.74 97.91,36.85 C97.91,58.96 85.00,55.28 85.00,73.7 L43.10,73.7 Q37.14,36.85 43.10,0 Z" fill="url(#bvert)" opacity="0.35"/>
<path d="M43.10,0 Q37.14,36.85 43.10,73.7" fill="none" stroke="#000" stroke-width="6" opacity="0.32" filter="url(#blur2)"/>
<path d="M85.00,0 C85.00,18.43 97.91,14.74 97.91,36.85 C97.91,58.96 85.00,55.28 85.00,73.7" fill="none" stroke="#000" stroke-width="12" opacity="0.32" filter="url(#blur3)"/>
</g>
<path d="M43.10,0 Q37.14,36.85 43.10,73.7" fill="none" stroke="#000" stroke-width="0.8" opacity="0.35"/>
<path d="M85.00,0 C85.00,18.43 97.91,14.74 97.91,36.85 C97.91,58.96 85.00,55.28 85.00,73.7" fill="none" stroke="#000" stroke-width="0.8" opacity="0.35"/>
</g>
<g transform="translate(429.75,529.0)">
<path d="M0,0 L43.10,0 Q37.14,36.85 43.10,73.7 L0,73.7 Q-12.71,36.85 0,0 Z" fill="#50e418"/>
<g clip-path="url(#ca51)">
<path d="M0,0 Q-12.71,36.85 0,73.7" fill="none" stroke="#e0f000" stroke-width="30" opacity="1" filter="url(#blur4)"/>
<path d="M0,0 L44,0" fill="none" stroke="#d8f000" stroke-width="7" opacity="1" filter="url(#blur2)"/>
<path d="M0,73.7 L44,73.7" fill="none" stroke="#d8f000" stroke-width="7" opacity="1" filter="url(#blur2)"/>
<ellipse cx="30" cy="36.85" rx="9" ry="18.43" fill="#28ec70" opacity="1" filter="url(#blur4)"/>
</g>
<path d="M43.10,0 L85.00,0 C85.00,18.43 97.91,14.74 97.91,36.85 C97.91,58.96 85.00,55.28 85.00,73.7 L43.10,73.7 Q37.14,36.85 43.10,0 Z" fill="#70e410"/>
<g clip-path="url(#cb52)">
<ellipse cx="72" cy="8.84" rx="20" ry="13.27" fill="#e8f000" opacity="1" filter="url(#blur4)"/>
<ellipse cx="72" cy="64.86" rx="20" ry="13.27" fill="#e8f000" opacity="1" filter="url(#blur4)"/>
<ellipse cx="84" cy="36.85" rx="8" ry="14.74" fill="#b0f000" opacity="1" filter="url(#blur3)"/>
<ellipse cx="56" cy="36.85" rx="14" ry="10.32" fill="#58e418" opacity="1" filter="url(#blur4)"/>
</g>
<path d="M85.00,0 L106.65,0 C111.07,11.05 117.87,20.71 117.87,36.85 C117.87,52.99 111.07,62.65 106.65,73.7 L85.00,73.7 C85.00,55.28 97.91,58.96 97.91,36.85 C97.91,14.74 85.00,18.43 85.00,0 Z" fill="#78e410"/>
<g clip-path="url(#cc53)">
<path d="M85.00,0 C85.00,18.43 97.91,14.74 97.91,36.85 C97.91,58.96 85.00,55.28 85.00,73.7" fill="none" stroke="#e0f000" stroke-width="12" opacity="1" filter="url(#blur3)"/>
<ellipse cx="110" cy="36.85" rx="8" ry="22.11" fill="#58e418" opacity="1" filter="url(#blur3)"/>
</g>
<g clip-path="url(#cb52)">
<path d="M43.10,0 L85.00,0 C85.00,18.43 97.91,14.74 97.91,36.85 C97.91,58.96 85.00,55.28 85.00,73.7 L43.10,73.7 Q37.14,36.85 43.10,0 Z" fill="url(#bshade)" opacity="0.35"/>
<path d="M43.10,0 L85.00,0 C85.00,18.43 97.91,14.74 97.91,36.85 C97.91,58.96 85.00,55.28 85.00,73.7 L43.10,73.7 Q37.14,36.85 43.10,0 Z" fill="url(#bvert)" opacity="0.35"/>
<path d="M43.10,0 Q37.14,36.85 43.10,73.7" fill="none" stroke="#000" stroke-width="6" opacity="0.32" filter="url(#blur2)"/>
<path d="M85.00,0 C85.00,18.43 97.91,14.74 97.91,36.85 C97.91,58.96 85.00,55.28 85.00,73.7" fill="none" stroke="#000" stroke-width="12" opacity="0.32" filter="url(#blur3)"/>
</g>
<path d="M43.10,0 Q37.14,36.85 43.10,73.7" fill="none" stroke="#000" stroke-width="0.8" opacity="0.35"/>
<path d="M85.00,0 C85.00,18.43 97.91,14.74 97.91,36.85 C97.91,58.96 85.00,55.28 85.00,73.7" fill="none" stroke="#000" stroke-width="0.8" opacity="0.35"/>
</g>
<g transform="translate(564.75,529.0)">
<path d="M0,0 L43.10,0 Q37.14,36.85 43.10,73.7 L0,73.7 Q-12.71,36.85 0,0 Z" fill="#80e810"/>
<g clip-path="url(#ca55)">
<ellipse cx="32" cy="36.85" rx="14" ry="29.48" fill="#68e410" opacity="1" filter="url(#blur4)"/>
<path d="M0,0 Q-12.71,36.85 0,73.7" fill="none" stroke="#a8f000" stroke-width="14" opacity="1" filter="url(#blur4)"/>
</g>
<path d="M43.10,0 L85.00,0 C85.00,18.43 97.91,14.74 97.91,36.85 C97.91,58.96 85.00,55.28 85.00,73.7 L43.10,73.7 Q37.14,36.85 43.10,0 Z" fill="#70e410"/>
<g clip-path="url(#cb56)">
<ellipse cx="74" cy="9.58" rx="17" ry="11.79" fill="#e8f000" opacity="1" filter="url(#blur4)"/>
<ellipse cx="74" cy="64.12" rx="17" ry="11.79" fill="#e8f000" opacity="1" filter="url(#blur4)"/>
<ellipse cx="52" cy="36.85" rx="7" ry="10.32" fill="#c8f000" opacity="1" filter="url(#blur4)"/>
<ellipse cx="86" cy="36.85" rx="7" ry="13.27" fill="#b8f000" opacity="1" filter="url(#blur3)"/>
</g>
<path d="M85.00,0 L106.65,0 C111.07,11.05 117.87,20.71 117.87,36.85 C117.87,52.99 111.07,62.65 106.65,73.7 L85.00,73.7 C85.00,55.28 97.91,58.96 97.91,36.85 C97.91,14.74 85.00,18.43 85.00,0 Z" fill="#70e410"/>
<g clip-path="url(#cc57)">
<path d="M85.00,0 C85.00,18.43 97.91,14.74 97.91,36.85 C97.91,58.96 85.00,55.28 85.00,73.7" fill="none" stroke="#a8f000" stroke-width="8" opacity="1" filter="url(#blur3)"/>
<ellipse cx="104" cy="36.85" rx="6" ry="18.43" fill="#90e810" opacity="1" filter="url(#blur3)"/>
</g>
<g clip-path="url(#cb56)">
<path d="M43.10,0 L85.00,0 C85.00,18.43 97.91,14.74 97.91,36.85 C97.91,58.96 85.00,55.28 85.00,73.7 L43.10,73.7 Q37.14,36.85 43.10,0 Z" fill="url(#bshade)" opacity="0.35"/>
<path d="M43.10,0 L85.00,0 C85.00,18.43 97.91,14.74 97.91,36.85 C97.91,58.96 85.00,55.28 85.00,73.7 L43.10,73.7 Q37.14,36.85 43.10,0 Z" fill="url(#bvert)" opacity="0.35"/>
<path d="M43.10,0 Q37.14,36.85 43.10,73.7" fill="none" stroke="#000" stroke-width="6" opacity="0.32" filter="url(#blur2)"/>
<path d="M85.00,0 C85.00,18.43 97.91,14.74 97.91,36.85 C97.91,58.96 85.00,55.28 85.00,73.7" fill="none" stroke="#000" stroke-width="12" opacity="0.32" filter="url(#blur3)"/>
</g>
<path d="M43.10,0 Q37.14,36.85 43.10,73.7" fill="none" stroke="#000" stroke-width="0.8" opacity="0.35"/>
<path d="M85.00,0 C85.00,18.43 97.91,14.74 97.91,36.85 C97.91,58.96 85.00,55.28 85.00,73.7" fill="none" stroke="#000" stroke-width="0.8" opacity="0.35"/>
</g>
</svg></body></html>
